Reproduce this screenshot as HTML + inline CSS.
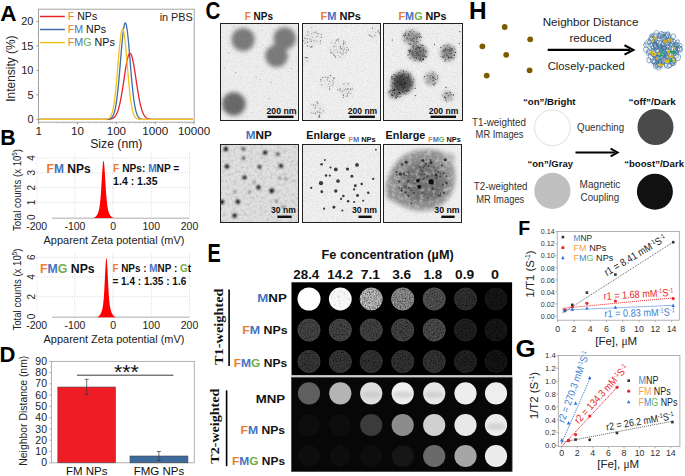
<!DOCTYPE html>
<html><head><meta charset="utf-8"><style>
html,body{margin:0;padding:0;background:#fff;}
svg{display:block;font-family:"Liberation Sans",sans-serif;}
</style></head><body>
<svg width="685" height="476" viewBox="0 0 685 476">
<defs>
<clipPath id="cpc1"><rect x="220" y="23" width="79.0" height="98.0"/></clipPath>
<clipPath id="cpc2"><rect x="302" y="23" width="79.0" height="98.0"/></clipPath>
<clipPath id="cpc3"><rect x="383" y="23" width="80.0" height="98.0"/></clipPath>
<clipPath id="cpc4"><rect x="220" y="144" width="79.0" height="79.0"/></clipPath>
<clipPath id="cpc5"><rect x="302" y="144" width="79.0" height="79.0"/></clipPath>
<clipPath id="cpc6"><rect x="383" y="144" width="79.0" height="79.0"/></clipPath>
<clipPath id="blobclip"><path d="M386,186 C388,176 392,168 397,162 C403,155 412,151 422,150 C432,149 443,150 449,157 C455,165 456,176 454,186 C451,197 444,205 433,209 C422,212 410,210 401,205 C395,202 389,200 386,196 Z"/></clipPath>
<filter id="blur15" x="-50%" y="-50%" width="200%" height="200%"><feGaussianBlur stdDeviation="1.5"/></filter>
<filter id="blur2" x="-50%" y="-50%" width="200%" height="200%"><feGaussianBlur stdDeviation="2"/></filter>
<filter id="blur3" x="-50%" y="-50%" width="200%" height="200%"><feGaussianBlur stdDeviation="3"/></filter>
<filter id="blur09" x="-50%" y="-50%" width="200%" height="200%"><feGaussianBlur stdDeviation="0.9"/></filter>
<filter id="blur4" x="-50%" y="-50%" width="200%" height="200%"><feGaussianBlur stdDeviation="4"/></filter>
<filter id="blur25" x="-50%" y="-50%" width="200%" height="200%"><feGaussianBlur stdDeviation="2.5"/></filter>
<filter id="blur04" x="-50%" y="-50%" width="200%" height="200%"><feGaussianBlur stdDeviation="0.4"/></filter>
<filter id="blur07" x="-50%" y="-50%" width="200%" height="200%"><feGaussianBlur stdDeviation="0.7"/></filter>
<filter id="blur05" x="-50%" y="-50%" width="200%" height="200%"><feGaussianBlur stdDeviation="0.5"/></filter>
<filter id="tnoise" x="0" y="0" width="100%" height="100%"><feTurbulence type="fractalNoise" baseFrequency="0.8" numOctaves="2" seed="3"/><feColorMatrix type="matrix" values="0 0 0 0 0  0 0 0 0 0  0 0 0 0 0  0.6 0 0 0 -0.27"/></filter>
<filter id="tnoise2" x="0" y="0" width="100%" height="100%"><feTurbulence type="fractalNoise" baseFrequency="0.3" numOctaves="3" seed="8"/><feColorMatrix type="matrix" values="0 0 0 0 0.6  0 0 0 0 0.6  0 0 0 0 0.6  3.2 0 0 0 -1.45"/></filter>
<filter id="mrimod" x="0" y="0" width="100%" height="100%"><feTurbulence type="fractalNoise" baseFrequency="0.75" numOctaves="2" seed="4" result="n"/><feColorMatrix in="n" type="matrix" values="1 0 0 0 0  1 0 0 0 0  1 0 0 0 0  0 0 0 0 1" result="g"/><feComposite in="SourceGraphic" in2="g" operator="arithmetic" k1="2.0" k2="-0.25" k3="0" k4="0"/></filter>
<filter id="blobtex" x="0" y="0" width="100%" height="100%"><feTurbulence type="fractalNoise" baseFrequency="0.25" numOctaves="2" seed="12"/><feColorMatrix type="matrix" values="0 0 0 0 1  0 0 0 0 1  0 0 0 0 1  2.2 0 0 0 -1.0"/></filter>
<filter id="mrinoise" x="0" y="0" width="100%" height="100%"><feTurbulence type="fractalNoise" baseFrequency="0.9" numOctaves="2" seed="5"/><feColorMatrix type="matrix" values="0 0 0 0 0.6  0 0 0 0 0.6  0 0 0 0 0.6  2.0 0 0 0 -0.95"/></filter>

</defs>
<rect width="685" height="476" fill="#fff"/>
<text x="0.3" y="21.2" font-size="22.5" font-weight="bold">A</text>
<rect x="38.5" y="9.2" width="155.7" height="113.0" fill="none" stroke="#9a9a9a" stroke-width="0.9"/>
<line x1="36.3" y1="119.4" x2="38.5" y2="119.4" stroke="#888" stroke-width="0.8"/>
<text x="33.5" y="123.3" font-size="11" text-anchor="end" fill="#222">0</text>
<line x1="36.3" y1="94.9" x2="38.5" y2="94.9" stroke="#888" stroke-width="0.8"/>
<text x="33.5" y="98.8" font-size="11" text-anchor="end" fill="#222">5</text>
<line x1="36.3" y1="70.4" x2="38.5" y2="70.4" stroke="#888" stroke-width="0.8"/>
<text x="33.5" y="74.3" font-size="11" text-anchor="end" fill="#222">10</text>
<line x1="36.3" y1="45.9" x2="38.5" y2="45.9" stroke="#888" stroke-width="0.8"/>
<text x="33.5" y="49.8" font-size="11" text-anchor="end" fill="#222">15</text>
<line x1="36.3" y1="21.4" x2="38.5" y2="21.4" stroke="#888" stroke-width="0.8"/>
<text x="33.5" y="25.3" font-size="11" text-anchor="end" fill="#222">20</text>
<line x1="37.3" y1="107.2" x2="38.5" y2="107.2" stroke="#aaa" stroke-width="0.7"/>
<line x1="37.3" y1="82.7" x2="38.5" y2="82.7" stroke="#aaa" stroke-width="0.7"/>
<line x1="37.3" y1="58.1" x2="38.5" y2="58.1" stroke="#aaa" stroke-width="0.7"/>
<line x1="37.3" y1="33.7" x2="38.5" y2="33.7" stroke="#aaa" stroke-width="0.7"/>
<line x1="38.7" y1="122.2" x2="38.7" y2="124.4" stroke="#888" stroke-width="0.8"/>
<line x1="50.4" y1="122.2" x2="50.4" y2="123.5" stroke="#aaa" stroke-width="0.6"/>
<line x1="57.2" y1="122.2" x2="57.2" y2="123.5" stroke="#aaa" stroke-width="0.6"/>
<line x1="62.1" y1="122.2" x2="62.1" y2="123.5" stroke="#aaa" stroke-width="0.6"/>
<line x1="65.8" y1="122.2" x2="65.8" y2="123.5" stroke="#aaa" stroke-width="0.6"/>
<line x1="68.9" y1="122.2" x2="68.9" y2="123.5" stroke="#aaa" stroke-width="0.6"/>
<line x1="71.5" y1="122.2" x2="71.5" y2="123.5" stroke="#aaa" stroke-width="0.6"/>
<line x1="73.8" y1="122.2" x2="73.8" y2="123.5" stroke="#aaa" stroke-width="0.6"/>
<line x1="75.8" y1="122.2" x2="75.8" y2="123.5" stroke="#aaa" stroke-width="0.6"/>
<line x1="77.5" y1="122.2" x2="77.5" y2="124.4" stroke="#888" stroke-width="0.8"/>
<line x1="89.2" y1="122.2" x2="89.2" y2="123.5" stroke="#aaa" stroke-width="0.6"/>
<line x1="96.1" y1="122.2" x2="96.1" y2="123.5" stroke="#aaa" stroke-width="0.6"/>
<line x1="100.9" y1="122.2" x2="100.9" y2="123.5" stroke="#aaa" stroke-width="0.6"/>
<line x1="104.7" y1="122.2" x2="104.7" y2="123.5" stroke="#aaa" stroke-width="0.6"/>
<line x1="107.7" y1="122.2" x2="107.7" y2="123.5" stroke="#aaa" stroke-width="0.6"/>
<line x1="110.3" y1="122.2" x2="110.3" y2="123.5" stroke="#aaa" stroke-width="0.6"/>
<line x1="112.6" y1="122.2" x2="112.6" y2="123.5" stroke="#aaa" stroke-width="0.6"/>
<line x1="114.6" y1="122.2" x2="114.6" y2="123.5" stroke="#aaa" stroke-width="0.6"/>
<line x1="116.4" y1="122.2" x2="116.4" y2="124.4" stroke="#888" stroke-width="0.8"/>
<line x1="128.0" y1="122.2" x2="128.0" y2="123.5" stroke="#aaa" stroke-width="0.6"/>
<line x1="134.9" y1="122.2" x2="134.9" y2="123.5" stroke="#aaa" stroke-width="0.6"/>
<line x1="139.7" y1="122.2" x2="139.7" y2="123.5" stroke="#aaa" stroke-width="0.6"/>
<line x1="143.5" y1="122.2" x2="143.5" y2="123.5" stroke="#aaa" stroke-width="0.6"/>
<line x1="146.6" y1="122.2" x2="146.6" y2="123.5" stroke="#aaa" stroke-width="0.6"/>
<line x1="149.2" y1="122.2" x2="149.2" y2="123.5" stroke="#aaa" stroke-width="0.6"/>
<line x1="151.4" y1="122.2" x2="151.4" y2="123.5" stroke="#aaa" stroke-width="0.6"/>
<line x1="153.4" y1="122.2" x2="153.4" y2="123.5" stroke="#aaa" stroke-width="0.6"/>
<line x1="155.2" y1="122.2" x2="155.2" y2="124.4" stroke="#888" stroke-width="0.8"/>
<line x1="166.9" y1="122.2" x2="166.9" y2="123.5" stroke="#aaa" stroke-width="0.6"/>
<line x1="173.7" y1="122.2" x2="173.7" y2="123.5" stroke="#aaa" stroke-width="0.6"/>
<line x1="178.6" y1="122.2" x2="178.6" y2="123.5" stroke="#aaa" stroke-width="0.6"/>
<line x1="182.3" y1="122.2" x2="182.3" y2="123.5" stroke="#aaa" stroke-width="0.6"/>
<line x1="185.4" y1="122.2" x2="185.4" y2="123.5" stroke="#aaa" stroke-width="0.6"/>
<line x1="188.0" y1="122.2" x2="188.0" y2="123.5" stroke="#aaa" stroke-width="0.6"/>
<line x1="190.3" y1="122.2" x2="190.3" y2="123.5" stroke="#aaa" stroke-width="0.6"/>
<line x1="192.2" y1="122.2" x2="192.2" y2="123.5" stroke="#aaa" stroke-width="0.6"/>
<line x1="194.0" y1="122.2" x2="194.0" y2="124.4" stroke="#888" stroke-width="0.8"/>
<text x="38.7" y="134.8" font-size="11.6" text-anchor="middle" fill="#222">1</text>
<text x="77.5" y="134.8" font-size="11.6" text-anchor="middle" fill="#222">10</text>
<text x="116.4" y="134.8" font-size="11.6" text-anchor="middle" fill="#222">100</text>
<text x="155.2" y="134.8" font-size="11.6" text-anchor="middle" fill="#222">1000</text>
<text x="194.0" y="134.8" font-size="11.6" text-anchor="middle" fill="#222">10000</text>
<text x="90.2" y="148.0" font-size="12.8" fill="#222" textLength="52.2" lengthAdjust="spacingAndGlyphs">Size (nm)</text>
<text transform="translate(15.0,68.6) rotate(-90)" text-anchor="middle" font-size="13" fill="#222" textLength="66.2" lengthAdjust="spacingAndGlyphs">Intensity (%)</text>
<line x1="40" y1="16.5" x2="64.8" y2="16.5" stroke="#E5242B" stroke-width="1.5"/>
<line x1="40" y1="29.5" x2="64.8" y2="29.5" stroke="#3D6DAA" stroke-width="1.5"/>
<line x1="40" y1="42.6" x2="64.8" y2="42.6" stroke="#F6C21B" stroke-width="1.5"/>
<text x="67.8" y="20.4" font-size="10.6" fill="#111" textLength="29.4" lengthAdjust="spacingAndGlyphs"><tspan fill="#ED7D31">F</tspan> NPs</text>
<text x="67.8" y="33.3" font-size="10.6" fill="#111" textLength="38.2" lengthAdjust="spacingAndGlyphs"><tspan fill="#ED7D31">F</tspan><tspan fill="#4472C4">M</tspan> NPs</text>
<text x="67.8" y="46.1" font-size="10.6" fill="#111" textLength="47.0" lengthAdjust="spacingAndGlyphs"><tspan fill="#ED7D31">F</tspan><tspan fill="#4472C4">M</tspan><tspan fill="#70AD47">G</tspan> NPs</text>
<text x="159.7" y="21.0" font-size="10.8" fill="#222" textLength="33.1" lengthAdjust="spacingAndGlyphs">in PBS</text>
<polyline points="39.5,119.40 40.0,119.40 40.5,119.40 41.0,119.40 41.5,119.40 42.0,119.40 42.5,119.40 43.0,119.40 43.5,119.40 44.0,119.40 44.5,119.40 45.0,119.40 45.5,119.40 46.0,119.40 46.5,119.40 47.0,119.40 47.5,119.40 48.0,119.40 48.5,119.40 49.0,119.40 49.5,119.40 50.0,119.40 50.5,119.40 51.0,119.40 51.5,119.40 52.0,119.40 52.5,119.40 53.0,119.40 53.5,119.40 54.0,119.40 54.5,119.40 55.0,119.40 55.5,119.40 56.0,119.40 56.5,119.40 57.0,119.40 57.5,119.40 58.0,119.40 58.5,119.40 59.0,119.40 59.5,119.40 60.0,119.40 60.5,119.40 61.0,119.40 61.5,119.40 62.0,119.40 62.5,119.40 63.0,119.40 63.5,119.40 64.0,119.40 64.5,119.40 65.0,119.40 65.5,119.40 66.0,119.40 66.5,119.40 67.0,119.40 67.5,119.40 68.0,119.40 68.5,119.40 69.0,119.40 69.5,119.40 70.0,119.40 70.5,119.40 71.0,119.40 71.5,119.40 72.0,119.40 72.5,119.40 73.0,119.40 73.5,119.40 74.0,119.40 74.5,119.40 75.0,119.40 75.5,119.40 76.0,119.40 76.5,119.40 77.0,119.40 77.5,119.40 78.0,119.40 78.5,119.40 79.0,119.40 79.5,119.40 80.0,119.40 80.5,119.40 81.0,119.40 81.5,119.40 82.0,119.40 82.5,119.40 83.0,119.40 83.5,119.40 84.0,119.40 84.5,119.40 85.0,119.40 85.5,119.40 86.0,119.40 86.5,119.40 87.0,119.40 87.5,119.40 88.0,119.40 88.5,119.40 89.0,119.40 89.5,119.40 90.0,119.40 90.5,119.40 91.0,119.40 91.5,119.40 92.0,119.40 92.5,119.40 93.0,119.40 93.5,119.40 94.0,119.40 94.5,119.40 95.0,119.40 95.5,119.40 96.0,119.40 96.5,119.40 97.0,119.40 97.5,119.40 98.0,119.40 98.5,119.40 99.0,119.40 99.5,119.40 100.0,119.40 100.5,119.40 101.0,119.40 101.5,119.40 102.0,119.40 102.5,119.40 103.0,119.40 103.5,119.40 104.0,119.39 104.5,119.39 105.0,119.39 105.5,119.38 106.0,119.38 106.5,119.37 107.0,119.36 107.5,119.34 108.0,119.32 108.5,119.29 109.0,119.26 109.5,119.21 110.0,119.14 110.5,119.06 111.0,118.96 111.5,118.83 112.0,118.67 112.5,118.46 113.0,118.21 113.5,117.89 114.0,117.51 114.5,117.05 115.0,116.49 115.5,115.83 116.0,115.05 116.5,114.14 117.0,113.07 117.5,111.85 118.0,110.45 118.5,108.86 119.0,107.08 119.5,105.09 120.0,102.91 120.5,100.51 121.0,97.92 121.5,95.15 122.0,92.20 122.5,89.11 123.0,85.91 123.5,82.61 124.0,79.28 124.5,75.94 125.0,72.66 125.5,69.47 126.0,66.43 126.5,63.60 127.0,61.02 127.5,58.75 128.0,56.82 128.5,55.29 129.0,54.16 129.5,53.48 130.0,53.25 130.5,53.48 131.0,54.16 131.5,55.29 132.0,56.82 132.5,58.75 133.0,61.02 133.5,63.60 134.0,66.43 134.5,69.47 135.0,72.66 135.5,75.94 136.0,79.28 136.5,82.61 137.0,85.91 137.5,89.11 138.0,92.20 138.5,95.15 139.0,97.92 139.5,100.51 140.0,102.91 140.5,105.09 141.0,107.08 141.5,108.86 142.0,110.45 142.5,111.85 143.0,113.07 143.5,114.14 144.0,115.05 144.5,115.83 145.0,116.49 145.5,117.05 146.0,117.51 146.5,117.89 147.0,118.21 147.5,118.46 148.0,118.67 148.5,118.83 149.0,118.96 149.5,119.06 150.0,119.14 150.5,119.21 151.0,119.26 151.5,119.29 152.0,119.32 152.5,119.34 153.0,119.36 153.5,119.37 154.0,119.38 154.5,119.38 155.0,119.39 155.5,119.39 156.0,119.39 156.5,119.40 157.0,119.40 157.5,119.40 158.0,119.40 158.5,119.40 159.0,119.40 159.5,119.40 160.0,119.40 160.5,119.40 161.0,119.40 161.5,119.40 162.0,119.40 162.5,119.40 163.0,119.40 163.5,119.40 164.0,119.40 164.5,119.40 165.0,119.40 165.5,119.40 166.0,119.40 166.5,119.40 167.0,119.40 167.5,119.40 168.0,119.40 168.5,119.40 169.0,119.40 169.5,119.40 170.0,119.40 170.5,119.40 171.0,119.40 171.5,119.40 172.0,119.40 172.5,119.40 173.0,119.40 173.5,119.40 174.0,119.40 174.5,119.40 175.0,119.40 175.5,119.40 176.0,119.40 176.5,119.40 177.0,119.40 177.5,119.40 178.0,119.40 178.5,119.40 179.0,119.40 179.5,119.40 180.0,119.40 180.5,119.40 181.0,119.40 181.5,119.40 182.0,119.40 182.5,119.40 183.0,119.40 183.5,119.40 184.0,119.40 184.5,119.40 185.0,119.40 185.5,119.40 186.0,119.40 186.5,119.40 187.0,119.40 187.5,119.40 188.0,119.40 188.5,119.40 189.0,119.40 189.5,119.40 190.0,119.40 190.5,119.40 191.0,119.40 191.5,119.40 192.0,119.40 192.5,119.40 193.0,119.40" fill="none" stroke="#E5242B" stroke-width="1.3" stroke-linejoin="round"/>
<polyline points="39.5,119.40 40.0,119.40 40.5,119.40 41.0,119.40 41.5,119.40 42.0,119.40 42.5,119.40 43.0,119.40 43.5,119.40 44.0,119.40 44.5,119.40 45.0,119.40 45.5,119.40 46.0,119.40 46.5,119.40 47.0,119.40 47.5,119.40 48.0,119.40 48.5,119.40 49.0,119.40 49.5,119.40 50.0,119.40 50.5,119.40 51.0,119.40 51.5,119.40 52.0,119.40 52.5,119.40 53.0,119.40 53.5,119.40 54.0,119.40 54.5,119.40 55.0,119.40 55.5,119.40 56.0,119.40 56.5,119.40 57.0,119.40 57.5,119.40 58.0,119.40 58.5,119.40 59.0,119.40 59.5,119.40 60.0,119.40 60.5,119.40 61.0,119.40 61.5,119.40 62.0,119.40 62.5,119.40 63.0,119.40 63.5,119.40 64.0,119.40 64.5,119.40 65.0,119.40 65.5,119.40 66.0,119.40 66.5,119.40 67.0,119.40 67.5,119.40 68.0,119.40 68.5,119.40 69.0,119.40 69.5,119.40 70.0,119.40 70.5,119.40 71.0,119.40 71.5,119.40 72.0,119.40 72.5,119.40 73.0,119.40 73.5,119.40 74.0,119.40 74.5,119.40 75.0,119.40 75.5,119.40 76.0,119.40 76.5,119.40 77.0,119.40 77.5,119.40 78.0,119.40 78.5,119.40 79.0,119.40 79.5,119.40 80.0,119.40 80.5,119.40 81.0,119.40 81.5,119.40 82.0,119.40 82.5,119.40 83.0,119.40 83.5,119.40 84.0,119.40 84.5,119.40 85.0,119.40 85.5,119.40 86.0,119.40 86.5,119.40 87.0,119.40 87.5,119.40 88.0,119.40 88.5,119.40 89.0,119.40 89.5,119.40 90.0,119.40 90.5,119.40 91.0,119.40 91.5,119.40 92.0,119.40 92.5,119.40 93.0,119.40 93.5,119.40 94.0,119.40 94.5,119.40 95.0,119.40 95.5,119.40 96.0,119.40 96.5,119.40 97.0,119.40 97.5,119.40 98.0,119.40 98.5,119.40 99.0,119.40 99.5,119.40 100.0,119.40 100.5,119.40 101.0,119.40 101.5,119.40 102.0,119.40 102.5,119.40 103.0,119.40 103.5,119.40 104.0,119.39 104.5,119.39 105.0,119.39 105.5,119.38 106.0,119.37 106.5,119.35 107.0,119.33 107.5,119.30 108.0,119.25 108.5,119.19 109.0,119.10 109.5,118.97 110.0,118.80 110.5,118.57 111.0,118.26 111.5,117.85 112.0,117.32 112.5,116.64 113.0,115.78 113.5,114.70 114.0,113.36 114.5,111.72 115.0,109.74 115.5,107.39 116.0,104.63 116.5,101.42 117.0,97.75 117.5,93.62 118.0,89.03 118.5,84.01 119.0,78.61 119.5,72.88 120.0,66.93 120.5,60.85 121.0,54.78 121.5,48.84 122.0,43.19 122.5,37.97 123.0,33.34 123.5,29.42 124.0,26.35 124.5,24.20 125.0,23.06 125.5,22.95 126.0,23.89 126.5,25.84 127.0,28.74 127.5,32.49 128.0,36.99 128.5,42.10 129.0,47.68 129.5,53.57 130.0,59.63 130.5,65.72 131.0,71.71 131.5,77.48 132.0,82.96 132.5,88.06 133.0,92.74 133.5,96.96 134.0,100.72 134.5,104.02 135.0,106.87 135.5,109.30 136.0,111.35 136.5,113.06 137.0,114.45 137.5,115.58 138.0,116.49 138.5,117.20 139.0,117.76 139.5,118.19 140.0,118.51 140.5,118.76 141.0,118.94 141.5,119.08 142.0,119.17 142.5,119.24 143.0,119.29 143.5,119.33 144.0,119.35 144.5,119.37 145.0,119.38 145.5,119.39 146.0,119.39 146.5,119.39 147.0,119.40 147.5,119.40 148.0,119.40 148.5,119.40 149.0,119.40 149.5,119.40 150.0,119.40 150.5,119.40 151.0,119.40 151.5,119.40 152.0,119.40 152.5,119.40 153.0,119.40 153.5,119.40 154.0,119.40 154.5,119.40 155.0,119.40 155.5,119.40 156.0,119.40 156.5,119.40 157.0,119.40 157.5,119.40 158.0,119.40 158.5,119.40 159.0,119.40 159.5,119.40 160.0,119.40 160.5,119.40 161.0,119.40 161.5,119.40 162.0,119.40 162.5,119.40 163.0,119.40 163.5,119.40 164.0,119.40 164.5,119.40 165.0,119.40 165.5,119.40 166.0,119.40 166.5,119.40 167.0,119.40 167.5,119.40 168.0,119.40 168.5,119.40 169.0,119.40 169.5,119.40 170.0,119.40 170.5,119.40 171.0,119.40 171.5,119.40 172.0,119.40 172.5,119.40 173.0,119.40 173.5,119.40 174.0,119.40 174.5,119.40 175.0,119.40 175.5,119.40 176.0,119.40 176.5,119.40 177.0,119.40 177.5,119.40 178.0,119.40 178.5,119.40 179.0,119.40 179.5,119.40 180.0,119.40 180.5,119.40 181.0,119.40 181.5,119.40 182.0,119.40 182.5,119.40 183.0,119.40 183.5,119.40 184.0,119.40 184.5,119.40 185.0,119.40 185.5,119.40 186.0,119.40 186.5,119.40 187.0,119.40 187.5,119.40 188.0,119.40 188.5,119.40 189.0,119.40 189.5,119.40 190.0,119.40 190.5,119.40 191.0,119.40 191.5,119.40 192.0,119.40 192.5,119.40 193.0,119.40" fill="none" stroke="#3D6DAA" stroke-width="1.3" stroke-linejoin="round"/>
<polyline points="39.5,119.40 40.0,119.40 40.5,119.40 41.0,119.40 41.5,119.40 42.0,119.40 42.5,119.40 43.0,119.40 43.5,119.40 44.0,119.40 44.5,119.40 45.0,119.40 45.5,119.40 46.0,119.40 46.5,119.40 47.0,119.40 47.5,119.40 48.0,119.40 48.5,119.40 49.0,119.40 49.5,119.40 50.0,119.40 50.5,119.40 51.0,119.40 51.5,119.40 52.0,119.40 52.5,119.40 53.0,119.40 53.5,119.40 54.0,119.40 54.5,119.40 55.0,119.40 55.5,119.40 56.0,119.40 56.5,119.40 57.0,119.40 57.5,119.40 58.0,119.40 58.5,119.40 59.0,119.40 59.5,119.40 60.0,119.40 60.5,119.40 61.0,119.40 61.5,119.40 62.0,119.40 62.5,119.40 63.0,119.40 63.5,119.40 64.0,119.40 64.5,119.40 65.0,119.40 65.5,119.40 66.0,119.40 66.5,119.40 67.0,119.40 67.5,119.40 68.0,119.40 68.5,119.40 69.0,119.40 69.5,119.40 70.0,119.40 70.5,119.40 71.0,119.40 71.5,119.40 72.0,119.40 72.5,119.40 73.0,119.40 73.5,119.40 74.0,119.40 74.5,119.40 75.0,119.40 75.5,119.40 76.0,119.40 76.5,119.40 77.0,119.40 77.5,119.40 78.0,119.40 78.5,119.40 79.0,119.40 79.5,119.40 80.0,119.40 80.5,119.40 81.0,119.40 81.5,119.40 82.0,119.40 82.5,119.40 83.0,119.40 83.5,119.40 84.0,119.40 84.5,119.40 85.0,119.40 85.5,119.40 86.0,119.40 86.5,119.40 87.0,119.40 87.5,119.40 88.0,119.40 88.5,119.40 89.0,119.40 89.5,119.40 90.0,119.40 90.5,119.40 91.0,119.40 91.5,119.40 92.0,119.40 92.5,119.40 93.0,119.40 93.5,119.40 94.0,119.40 94.5,119.40 95.0,119.40 95.5,119.40 96.0,119.40 96.5,119.40 97.0,119.40 97.5,119.40 98.0,119.40 98.5,119.40 99.0,119.40 99.5,119.40 100.0,119.40 100.5,119.40 101.0,119.40 101.5,119.40 102.0,119.40 102.5,119.39 103.0,119.39 103.5,119.38 104.0,119.37 104.5,119.36 105.0,119.34 105.5,119.31 106.0,119.27 106.5,119.20 107.0,119.11 107.5,118.99 108.0,118.81 108.5,118.57 109.0,118.25 109.5,117.83 110.0,117.27 110.5,116.55 111.0,115.63 111.5,114.47 112.0,113.03 112.5,111.26 113.0,109.13 113.5,106.59 114.0,103.61 114.5,100.17 115.0,96.25 115.5,91.85 116.0,87.01 116.5,81.77 117.0,76.19 117.5,70.37 118.0,64.42 118.5,58.47 119.0,52.66 119.5,47.16 120.0,42.13 120.5,37.72 121.0,34.07 121.5,31.31 122.0,29.52 122.5,28.77 123.0,29.09 123.5,30.47 124.0,32.85 124.5,36.16 125.0,40.29 125.5,45.09 126.0,50.42 126.5,56.12 127.0,62.03 127.5,68.00 128.0,73.89 128.5,79.58 129.0,84.96 129.5,89.97 130.0,94.55 130.5,98.66 131.0,102.29 131.5,105.45 132.0,108.16 132.5,110.46 133.0,112.36 133.5,113.93 134.0,115.20 134.5,116.21 135.0,117.00 135.5,117.62 136.0,118.10 136.5,118.46 137.0,118.72 137.5,118.92 138.0,119.07 138.5,119.17 139.0,119.24 139.5,119.29 140.0,119.33 140.5,119.35 141.0,119.37 141.5,119.38 142.0,119.39 142.5,119.39 143.0,119.40 143.5,119.40 144.0,119.40 144.5,119.40 145.0,119.40 145.5,119.40 146.0,119.40 146.5,119.40 147.0,119.40 147.5,119.40 148.0,119.40 148.5,119.40 149.0,119.40 149.5,119.40 150.0,119.40 150.5,119.40 151.0,119.40 151.5,119.40 152.0,119.40 152.5,119.40 153.0,119.40 153.5,119.40 154.0,119.40 154.5,119.40 155.0,119.40 155.5,119.40 156.0,119.40 156.5,119.40 157.0,119.40 157.5,119.40 158.0,119.40 158.5,119.40 159.0,119.40 159.5,119.40 160.0,119.40 160.5,119.40 161.0,119.40 161.5,119.40 162.0,119.40 162.5,119.40 163.0,119.40 163.5,119.40 164.0,119.40 164.5,119.40 165.0,119.40 165.5,119.40 166.0,119.40 166.5,119.40 167.0,119.40 167.5,119.40 168.0,119.40 168.5,119.40 169.0,119.40 169.5,119.40 170.0,119.40 170.5,119.40 171.0,119.40 171.5,119.40 172.0,119.40 172.5,119.40 173.0,119.40 173.5,119.40 174.0,119.40 174.5,119.40 175.0,119.40 175.5,119.40 176.0,119.40 176.5,119.40 177.0,119.40 177.5,119.40 178.0,119.40 178.5,119.40 179.0,119.40 179.5,119.40 180.0,119.40 180.5,119.40 181.0,119.40 181.5,119.40 182.0,119.40 182.5,119.40 183.0,119.40 183.5,119.40 184.0,119.40 184.5,119.40 185.0,119.40 185.5,119.40 186.0,119.40 186.5,119.40 187.0,119.40 187.5,119.40 188.0,119.40 188.5,119.40 189.0,119.40 189.5,119.40 190.0,119.40 190.5,119.40 191.0,119.40 191.5,119.40 192.0,119.40 192.5,119.40 193.0,119.40" fill="none" stroke="#F6C21B" stroke-width="1.3" stroke-linejoin="round"/>
<text x="0.2" y="144.8" font-size="21.3" font-weight="bold">B</text>
<line x1="37" y1="202.4" x2="190" y2="202.4" stroke="#c8c8c8" stroke-width="0.7" stroke-dasharray="1,1.5"/>
<line x1="37" y1="187.6" x2="190" y2="187.6" stroke="#c8c8c8" stroke-width="0.7" stroke-dasharray="1,1.5"/>
<line x1="37" y1="172.8" x2="190" y2="172.8" stroke="#c8c8c8" stroke-width="0.7" stroke-dasharray="1,1.5"/>
<line x1="37" y1="158.0" x2="190" y2="158.0" stroke="#c8c8c8" stroke-width="0.7" stroke-dasharray="1,1.5"/>
<line x1="74.9" y1="153.0" x2="74.9" y2="217.7" stroke="#c8c8c8" stroke-width="0.7" stroke-dasharray="1,1.5"/>
<line x1="113.1" y1="153.0" x2="113.1" y2="217.7" stroke="#c8c8c8" stroke-width="0.7" stroke-dasharray="1,1.5"/>
<line x1="151.3" y1="153.0" x2="151.3" y2="217.7" stroke="#c8c8c8" stroke-width="0.7" stroke-dasharray="1,1.5"/>
<line x1="189.5" y1="153.0" x2="189.5" y2="217.7" stroke="#c8c8c8" stroke-width="0.7" stroke-dasharray="1,1.5"/>
<line x1="36.8" y1="153.0" x2="36.8" y2="218.2" stroke="#d8d8d8" stroke-width="0.7" stroke-dasharray="1,1.5"/>
<line x1="52" y1="218.3" x2="189.5" y2="218.3" stroke="#c8c8c8" stroke-width="1.4"/>
<text transform="translate(35.2,217.2) rotate(-90)" text-anchor="middle" font-size="10" fill="#222">0</text>
<text transform="translate(35.2,202.4) rotate(-90)" text-anchor="middle" font-size="10" fill="#222">1</text>
<text transform="translate(35.2,187.6) rotate(-90)" text-anchor="middle" font-size="10" fill="#222">2</text>
<text transform="translate(35.2,172.8) rotate(-90)" text-anchor="middle" font-size="10" fill="#222">3</text>
<text transform="translate(35.2,158.0) rotate(-90)" text-anchor="middle" font-size="10" fill="#222">4</text>
<text x="36.7" y="229.6" font-size="10.5" text-anchor="middle" fill="#222">-200</text>
<text x="74.9" y="229.6" font-size="10.5" text-anchor="middle" fill="#222">-100</text>
<text x="113.1" y="229.6" font-size="10.5" text-anchor="middle" fill="#222">0</text>
<text x="151.3" y="229.6" font-size="10.5" text-anchor="middle" fill="#222">100</text>
<text x="189.5" y="229.6" font-size="10.5" text-anchor="middle" fill="#222">200</text>
<text x="114.0" y="243.6" font-size="11" text-anchor="middle" fill="#222" textLength="141.0" lengthAdjust="spacingAndGlyphs">Apparent Zeta potential (mV)</text>
<text transform="translate(21.3,190) rotate(-90)" text-anchor="middle" font-size="11" fill="#222" textLength="82" lengthAdjust="spacingAndGlyphs">Total counts (x 10<tspan dy="-4" font-size="7">5</tspan><tspan dy="4">)</tspan></text>
<polygon points="92.70,218.02 92.95,217.98 93.20,217.93 93.45,217.87 93.70,217.80 93.95,217.72 94.20,217.63 94.45,217.52 94.70,217.39 94.95,217.24 95.20,217.07 95.45,216.88 95.70,216.66 95.95,216.42 96.20,216.14 96.45,215.83 96.70,215.49 96.95,215.10 97.20,214.68 97.45,214.21 97.70,213.69 97.95,213.10 98.20,212.44 98.45,211.69 98.70,210.83 98.95,209.82 99.20,208.64 99.45,207.24 99.70,205.59 99.95,203.65 100.20,201.36 100.45,198.71 100.70,195.68 100.95,192.28 101.20,188.55 101.45,184.56 101.70,180.42 101.95,176.28 102.20,172.29 102.45,168.65 102.70,165.52 102.95,163.09 103.20,161.49 103.45,160.82 103.70,161.11 103.95,162.35 104.20,164.46 104.45,167.32 104.70,170.78 104.95,174.65 105.20,178.76 105.45,182.92 105.70,186.98 105.95,190.82 106.20,194.36 106.45,197.54 106.70,200.35 106.95,202.77 107.20,204.85 107.45,206.62 107.70,208.11 107.95,209.37 108.20,210.44 108.45,211.36 108.70,212.15 108.95,212.85 109.20,213.46 109.45,214.01 109.70,214.50 109.95,214.94 110.20,215.34 110.45,215.70 110.70,216.02 110.95,216.31 111.20,216.57 111.45,216.80 111.70,217.00 111.95,217.18 112.20,217.33 112.45,217.47 112.70,217.59 112.95,217.69 113.20,217.77 113.45,217.85 113.70,217.91 113.95,217.96 114.20,218.01" fill="#f00"/>
<text x="46.6" y="172.9" font-size="12" font-weight="bold" fill="#111" textLength="44.1" lengthAdjust="spacingAndGlyphs"><tspan fill="#ED7D31">F</tspan><tspan fill="#4472C4">M</tspan> NPs</text>
<text x="113.1" y="171.5" font-size="10.2" font-weight="bold" fill="#111" textLength="66.2" lengthAdjust="spacingAndGlyphs"><tspan fill="#ED7D31">F</tspan> NPs: <tspan fill="#4472C4">M</tspan>NP =</text>
<text x="113.1" y="185.3" font-size="10.5" font-weight="bold" fill="#111" textLength="44.5" lengthAdjust="spacingAndGlyphs">1.4 : 1.35</text>
<line x1="37" y1="296.7" x2="190" y2="296.7" stroke="#c8c8c8" stroke-width="0.7" stroke-dasharray="1,1.5"/>
<line x1="37" y1="277.0" x2="190" y2="277.0" stroke="#c8c8c8" stroke-width="0.7" stroke-dasharray="1,1.5"/>
<line x1="37" y1="257.3" x2="190" y2="257.3" stroke="#c8c8c8" stroke-width="0.7" stroke-dasharray="1,1.5"/>
<line x1="74.9" y1="253.0" x2="74.9" y2="316.7" stroke="#c8c8c8" stroke-width="0.7" stroke-dasharray="1,1.5"/>
<line x1="113.1" y1="253.0" x2="113.1" y2="316.7" stroke="#c8c8c8" stroke-width="0.7" stroke-dasharray="1,1.5"/>
<line x1="151.3" y1="253.0" x2="151.3" y2="316.7" stroke="#c8c8c8" stroke-width="0.7" stroke-dasharray="1,1.5"/>
<line x1="189.5" y1="253.0" x2="189.5" y2="316.7" stroke="#c8c8c8" stroke-width="0.7" stroke-dasharray="1,1.5"/>
<line x1="36.8" y1="253.0" x2="36.8" y2="317.2" stroke="#d8d8d8" stroke-width="0.7" stroke-dasharray="1,1.5"/>
<line x1="52" y1="317.3" x2="189.5" y2="317.3" stroke="#c8c8c8" stroke-width="1.4"/>
<text transform="translate(35.2,316.4) rotate(-90)" text-anchor="middle" font-size="10" fill="#222">0</text>
<text transform="translate(35.2,296.7) rotate(-90)" text-anchor="middle" font-size="10" fill="#222">2</text>
<text transform="translate(35.2,277.0) rotate(-90)" text-anchor="middle" font-size="10" fill="#222">4</text>
<text transform="translate(35.2,257.3) rotate(-90)" text-anchor="middle" font-size="10" fill="#222">6</text>
<text x="36.7" y="329.2" font-size="10.5" text-anchor="middle" fill="#222">-200</text>
<text x="74.9" y="329.2" font-size="10.5" text-anchor="middle" fill="#222">-100</text>
<text x="113.1" y="329.2" font-size="10.5" text-anchor="middle" fill="#222">0</text>
<text x="151.3" y="329.2" font-size="10.5" text-anchor="middle" fill="#222">100</text>
<text x="189.5" y="329.2" font-size="10.5" text-anchor="middle" fill="#222">200</text>
<text x="114.0" y="342.8" font-size="11" text-anchor="middle" fill="#222" textLength="141.0" lengthAdjust="spacingAndGlyphs">Apparent Zeta potential (mV)</text>
<text transform="translate(21.3,289.6) rotate(-90)" text-anchor="middle" font-size="11" fill="#222" textLength="82" lengthAdjust="spacingAndGlyphs">Total counts (x 10<tspan dy="-4" font-size="7">5</tspan><tspan dy="4">)</tspan></text>
<polygon points="96.50,317.21 96.75,317.17 97.00,317.11 97.25,317.04 97.50,316.96 97.75,316.86 98.00,316.75 98.25,316.61 98.50,316.45 98.75,316.26 99.00,316.05 99.25,315.80 99.50,315.52 99.75,315.21 100.00,314.85 100.25,314.46 100.50,314.02 100.75,313.53 101.00,313.00 101.25,312.41 101.50,311.76 101.75,311.04 102.00,310.23 102.25,309.30 102.50,308.21 102.75,306.91 103.00,305.34 103.25,303.40 103.50,301.04 103.75,298.16 104.00,294.72 104.25,290.71 104.50,286.18 104.75,281.25 105.00,276.12 105.25,271.07 105.50,266.42 105.75,262.51 106.00,259.64 106.25,258.06 106.50,257.92 106.75,259.21 107.00,261.84 107.25,265.57 107.50,270.10 107.75,275.09 108.00,280.23 108.25,285.22 108.50,289.84 108.75,293.96 109.00,297.52 109.25,300.50 109.50,302.97 109.75,304.98 110.00,306.62 110.25,307.97 110.50,309.10 110.75,310.06 111.00,310.89 111.25,311.63 111.50,312.29 111.75,312.89 112.00,313.43 112.25,313.93 112.50,314.37 112.75,314.78 113.00,315.14 113.25,315.46 113.50,315.75 113.75,316.00 114.00,316.22 114.25,316.41 114.50,316.58 114.75,316.72 115.00,316.84 115.25,316.94 115.50,317.03 115.75,317.10 116.00,317.16 116.25,317.21" fill="#f00"/>
<text x="40.1" y="273.3" font-size="12" font-weight="bold" fill="#111" textLength="54.6" lengthAdjust="spacingAndGlyphs"><tspan fill="#ED7D31">F</tspan><tspan fill="#4472C4">M</tspan><tspan fill="#70AD47">G</tspan> NPs</text>
<text x="112.4" y="272.4" font-size="10" font-weight="bold" fill="#111" textLength="78.6" lengthAdjust="spacingAndGlyphs"><tspan fill="#ED7D31">F</tspan> NPs : <tspan fill="#4472C4">M</tspan>NP : <tspan fill="#70AD47">G</tspan>t</text>
<text x="112.4" y="285.2" font-size="10" font-weight="bold" fill="#111" textLength="73.9" lengthAdjust="spacingAndGlyphs">= 1.4 : 1.35 : 1.6</text>
<text x="-0.5" y="362.3" font-size="22" font-weight="bold">D</text>
<rect x="51.4" y="361.4" width="142.9" height="101.40000000000003" fill="none" stroke="#a8a8a8" stroke-width="0.9"/>
<line x1="49.4" y1="462.8" x2="51.4" y2="462.8" stroke="#888" stroke-width="0.7"/>
<text x="47.0" y="466.4" font-size="10.5" text-anchor="end" fill="#222">0</text>
<line x1="49.4" y1="451.5" x2="51.4" y2="451.5" stroke="#888" stroke-width="0.7"/>
<text x="47.0" y="455.1" font-size="10.5" text-anchor="end" fill="#222">10</text>
<line x1="49.4" y1="440.2" x2="51.4" y2="440.2" stroke="#888" stroke-width="0.7"/>
<text x="47.0" y="443.8" font-size="10.5" text-anchor="end" fill="#222">20</text>
<line x1="49.4" y1="429.0" x2="51.4" y2="429.0" stroke="#888" stroke-width="0.7"/>
<text x="47.0" y="432.6" font-size="10.5" text-anchor="end" fill="#222">30</text>
<line x1="49.4" y1="417.7" x2="51.4" y2="417.7" stroke="#888" stroke-width="0.7"/>
<text x="47.0" y="421.3" font-size="10.5" text-anchor="end" fill="#222">40</text>
<line x1="49.4" y1="406.4" x2="51.4" y2="406.4" stroke="#888" stroke-width="0.7"/>
<text x="47.0" y="410.0" font-size="10.5" text-anchor="end" fill="#222">50</text>
<line x1="49.4" y1="395.1" x2="51.4" y2="395.1" stroke="#888" stroke-width="0.7"/>
<text x="47.0" y="398.7" font-size="10.5" text-anchor="end" fill="#222">60</text>
<line x1="49.4" y1="383.8" x2="51.4" y2="383.8" stroke="#888" stroke-width="0.7"/>
<text x="47.0" y="387.4" font-size="10.5" text-anchor="end" fill="#222">70</text>
<line x1="49.4" y1="372.6" x2="51.4" y2="372.6" stroke="#888" stroke-width="0.7"/>
<text x="47.0" y="376.2" font-size="10.5" text-anchor="end" fill="#222">80</text>
<line x1="49.4" y1="361.3" x2="51.4" y2="361.3" stroke="#888" stroke-width="0.7"/>
<text x="47.0" y="364.9" font-size="10.5" text-anchor="end" fill="#222">90</text>
<line x1="50.199999999999996" y1="457.2" x2="51.4" y2="457.2" stroke="#aaa" stroke-width="0.6"/>
<line x1="50.199999999999996" y1="445.9" x2="51.4" y2="445.9" stroke="#aaa" stroke-width="0.6"/>
<line x1="50.199999999999996" y1="434.6" x2="51.4" y2="434.6" stroke="#aaa" stroke-width="0.6"/>
<line x1="50.199999999999996" y1="423.3" x2="51.4" y2="423.3" stroke="#aaa" stroke-width="0.6"/>
<line x1="50.199999999999996" y1="412.0" x2="51.4" y2="412.0" stroke="#aaa" stroke-width="0.6"/>
<line x1="50.199999999999996" y1="400.8" x2="51.4" y2="400.8" stroke="#aaa" stroke-width="0.6"/>
<line x1="50.199999999999996" y1="389.5" x2="51.4" y2="389.5" stroke="#aaa" stroke-width="0.6"/>
<line x1="50.199999999999996" y1="378.2" x2="51.4" y2="378.2" stroke="#aaa" stroke-width="0.6"/>
<line x1="50.199999999999996" y1="366.9" x2="51.4" y2="366.9" stroke="#aaa" stroke-width="0.6"/>
<rect x="57.8" y="387.0" width="57.8" height="75.8" fill="#ee1c24" stroke="#555" stroke-width="0.6"/>
<rect x="130" y="456.0" width="57.9" height="6.8" fill="#3F6A9C" stroke="#444" stroke-width="0.6"/>
<path d="M86.7,379.3 V394.6 M84.7,379.3 H88.7 M84.7,394.6 H88.7" stroke="#333" stroke-width="0.7" fill="none"/>
<path d="M158.9,451.5 V460.5 M156.9,451.5 H160.9 M156.9,460.5 H160.9" stroke="#333" stroke-width="0.7" fill="none"/>
<line x1="77" y1="375.2" x2="173.4" y2="375.2" stroke="#222" stroke-width="0.9"/>
<text x="114.0" y="378.8" font-size="20" fill="#111" textLength="24.8" lengthAdjust="spacingAndGlyphs">***</text>
<text x="86.7" y="475.3" font-size="11.5" text-anchor="middle" fill="#111">FM NPs</text>
<text x="158.9" y="475.3" font-size="11.5" text-anchor="middle" fill="#111">FMG NPs</text>
<text transform="translate(27.3,410.7) rotate(-90)" text-anchor="middle" font-size="11.2" fill="#222" textLength="110" lengthAdjust="spacingAndGlyphs">Neighbor Distance (nm)</text>
<text x="205.6" y="19.1" font-size="24.5" font-weight="bold" textLength="14.9" lengthAdjust="spacingAndGlyphs">C</text>
<text x="244.7" y="19.5" font-size="11" font-weight="bold" fill="#111" textLength="28.3" lengthAdjust="spacingAndGlyphs"><tspan fill="#ED7D31">F</tspan> NPs</text>
<text x="320.6" y="19.5" font-size="11" font-weight="bold" fill="#111" textLength="40.4" lengthAdjust="spacingAndGlyphs"><tspan fill="#ED7D31">F</tspan><tspan fill="#4472C4">M</tspan> NPs</text>
<text x="398.5" y="19.5" font-size="11" font-weight="bold" fill="#111" textLength="48.1" lengthAdjust="spacingAndGlyphs"><tspan fill="#ED7D31">F</tspan><tspan fill="#4472C4">M</tspan><tspan fill="#70AD47">G</tspan> NPs</text>
<text x="245.7" y="139.2" font-size="11.5" font-weight="bold" fill="#111" textLength="26.0" lengthAdjust="spacingAndGlyphs"><tspan fill="#4472C4">M</tspan>NP</text>
<text x="306.3" y="139.4" font-size="11.2" font-weight="bold" fill="#111" textLength="39.2" lengthAdjust="spacingAndGlyphs">Enlarge</text>
<text x="348.4" y="141.9" font-size="7" font-weight="bold" fill="#111" textLength="27.3" lengthAdjust="spacingAndGlyphs"><tspan fill="#ED7D31">F</tspan><tspan fill="#4472C4">M</tspan> NPs</text>
<text x="385.6" y="139.4" font-size="11.2" font-weight="bold" fill="#111" textLength="39.7" lengthAdjust="spacingAndGlyphs">Enlarge</text>
<text x="428.3" y="141.9" font-size="7" font-weight="bold" fill="#111" textLength="32.5" lengthAdjust="spacingAndGlyphs"><tspan fill="#ED7D31">F</tspan><tspan fill="#4472C4">M</tspan><tspan fill="#70AD47">G</tspan> NPs</text>
<g clip-path="url(#cpc1)"><rect x="220" y="23" width="79.0" height="98.0" fill="#efefef"/><g filter="url(#blur2)" fill="#7c7c7c"><circle cx="243.1" cy="39.5" r="11.6"/><circle cx="284.7" cy="38.4" r="11.2"/><circle cx="276.5" cy="56" r="11.3"/><circle cx="233.8" cy="104" r="11.8" fill="#6a6a6a"/></g><circle cx="255.9" cy="77.1" r="0.6" fill="#aaa"/><circle cx="291.3" cy="68.3" r="0.6" fill="#aaa"/><circle cx="260.1" cy="79.6" r="0.6" fill="#aaa"/><circle cx="235.8" cy="72.6" r="0.6" fill="#aaa"/><circle cx="269.2" cy="98.7" r="0.6" fill="#aaa"/><circle cx="229.1" cy="53.2" r="0.6" fill="#aaa"/><circle cx="228.8" cy="100.3" r="0.6" fill="#aaa"/><circle cx="274.0" cy="28.9" r="0.6" fill="#aaa"/><circle cx="295.7" cy="114.7" r="0.6" fill="#aaa"/><circle cx="271.0" cy="82.2" r="0.6" fill="#aaa"/><circle cx="233.8" cy="26.4" r="0.6" fill="#aaa"/><circle cx="261.6" cy="30.5" r="0.6" fill="#aaa"/><circle cx="236.3" cy="47.5" r="0.6" fill="#aaa"/><circle cx="224.3" cy="68.1" r="0.6" fill="#aaa"/><rect x="220" y="23" width="79.0" height="98.0" fill="#000" filter="url(#tnoise)" opacity="0.35"/></g>
<rect x="220.5" y="23.5" width="78.0" height="97.0" fill="none" stroke="#222" stroke-width="1"/>
<g clip-path="url(#cpc2)"><rect x="302" y="23" width="79.0" height="98.0" fill="#f1f1f1"/><circle cx="303.8" cy="40.8" r="0.56" fill="#555"/><circle cx="307.8" cy="31.9" r="0.60" fill="#555"/><circle cx="307.2" cy="38.8" r="0.70" fill="#555"/><circle cx="321.5" cy="37.2" r="0.61" fill="#555"/><circle cx="310.4" cy="41.8" r="0.49" fill="#555"/><circle cx="320.2" cy="41.1" r="0.52" fill="#555"/><circle cx="315.8" cy="32.3" r="0.69" fill="#555"/><circle cx="312.4" cy="37.2" r="0.46" fill="#555"/><circle cx="318.1" cy="33.7" r="0.69" fill="#555"/><circle cx="310.1" cy="39.0" r="0.59" fill="#555"/><circle cx="313.2" cy="32.3" r="0.43" fill="#555"/><circle cx="307.4" cy="45.9" r="0.63" fill="#555"/><circle cx="316.0" cy="40.8" r="0.43" fill="#555"/><circle cx="320.6" cy="40.7" r="0.45" fill="#555"/><circle cx="306.1" cy="35.0" r="0.46" fill="#555"/><circle cx="311.9" cy="33.8" r="0.59" fill="#555"/><circle cx="317.1" cy="41.7" r="0.46" fill="#555"/><circle cx="311.1" cy="47.2" r="0.64" fill="#555"/><circle cx="309.2" cy="46.3" r="0.46" fill="#555"/><circle cx="305.0" cy="43.1" r="0.59" fill="#555"/><circle cx="320.3" cy="43.3" r="0.46" fill="#555"/><circle cx="311.8" cy="46.2" r="0.50" fill="#555"/><circle cx="311.5" cy="40.0" r="0.43" fill="#555"/><circle cx="308.0" cy="35.0" r="0.58" fill="#555"/><circle cx="307.6" cy="42.3" r="0.69" fill="#555"/><circle cx="304.8" cy="38.2" r="0.66" fill="#555"/><circle cx="313.9" cy="41.0" r="0.67" fill="#555"/><circle cx="314.4" cy="32.9" r="0.46" fill="#555"/><circle cx="311.7" cy="27.7" r="0.46" fill="#555"/><circle cx="321.2" cy="34.5" r="0.58" fill="#555"/><circle cx="309.5" cy="38.9" r="0.41" fill="#555"/><circle cx="317.0" cy="36.3" r="0.61" fill="#555"/><circle cx="311.9" cy="46.5" r="0.58" fill="#555"/><circle cx="311.2" cy="41.4" r="0.62" fill="#555"/><circle cx="312.3" cy="37.4" r="10" fill="#ddd" opacity="0.35" filter="url(#blur2)"/><circle cx="343.3" cy="50.7" r="0.57" fill="#555"/><circle cx="343.7" cy="42.4" r="0.48" fill="#555"/><circle cx="342.9" cy="46.5" r="0.40" fill="#555"/><circle cx="338.2" cy="55.3" r="0.42" fill="#555"/><circle cx="341.7" cy="54.1" r="0.57" fill="#555"/><circle cx="343.1" cy="53.1" r="0.67" fill="#555"/><circle cx="347.0" cy="47.7" r="0.61" fill="#555"/><circle cx="335.8" cy="46.8" r="0.41" fill="#555"/><circle cx="348.5" cy="49.8" r="0.61" fill="#555"/><circle cx="340.4" cy="48.4" r="0.59" fill="#555"/><circle cx="330.5" cy="49.7" r="0.50" fill="#555"/><circle cx="341.7" cy="48.7" r="0.56" fill="#555"/><circle cx="338.2" cy="39.2" r="0.62" fill="#555"/><circle cx="336.4" cy="40.2" r="0.67" fill="#555"/><circle cx="334.1" cy="55.3" r="0.67" fill="#555"/><circle cx="343.5" cy="44.0" r="0.64" fill="#555"/><circle cx="343.9" cy="43.0" r="0.59" fill="#555"/><circle cx="333.4" cy="53.8" r="0.58" fill="#555"/><circle cx="346.0" cy="52.6" r="0.70" fill="#555"/><circle cx="345.2" cy="42.8" r="0.52" fill="#555"/><circle cx="338.3" cy="41.1" r="0.53" fill="#555"/><circle cx="340.5" cy="46.2" r="0.63" fill="#555"/><circle cx="346.6" cy="50.1" r="0.54" fill="#555"/><circle cx="340.0" cy="57.0" r="0.55" fill="#555"/><circle cx="331.8" cy="42.4" r="0.48" fill="#555"/><circle cx="344.5" cy="49.1" r="0.60" fill="#555"/><circle cx="340.2" cy="52.6" r="0.67" fill="#555"/><circle cx="335.4" cy="43.1" r="0.67" fill="#555"/><circle cx="335.2" cy="55.9" r="0.46" fill="#555"/><circle cx="330.9" cy="52.5" r="0.67" fill="#555"/><circle cx="343.5" cy="44.5" r="0.57" fill="#555"/><circle cx="337.5" cy="52.1" r="0.55" fill="#555"/><circle cx="343.8" cy="40.8" r="0.61" fill="#555"/><circle cx="344.0" cy="47.1" r="0.45" fill="#555"/><circle cx="334.0" cy="50.3" r="0.46" fill="#555"/><circle cx="332.2" cy="52.8" r="0.55" fill="#555"/><circle cx="335.3" cy="57.1" r="0.69" fill="#555"/><circle cx="336.4" cy="49.5" r="0.41" fill="#555"/><circle cx="340.4" cy="47.2" r="0.61" fill="#555"/><circle cx="334.0" cy="46.3" r="0.64" fill="#555"/><circle cx="342.7" cy="49.1" r="0.54" fill="#555"/><circle cx="348.0" cy="50.1" r="0.47" fill="#555"/><circle cx="339" cy="48.7" r="10" fill="#ddd" opacity="0.35" filter="url(#blur2)"/><circle cx="328.8" cy="84.0" r="0.59" fill="#555"/><circle cx="321.7" cy="84.8" r="0.60" fill="#555"/><circle cx="330.5" cy="75.4" r="0.61" fill="#555"/><circle cx="329.4" cy="87.9" r="0.45" fill="#555"/><circle cx="333.2" cy="83.1" r="0.61" fill="#555"/><circle cx="329.5" cy="86.5" r="0.50" fill="#555"/><circle cx="325.8" cy="77.2" r="0.58" fill="#555"/><circle cx="327.9" cy="77.7" r="0.64" fill="#555"/><circle cx="329.7" cy="81.4" r="0.68" fill="#555"/><circle cx="327.2" cy="79.9" r="0.54" fill="#555"/><circle cx="322.3" cy="77.3" r="0.51" fill="#555"/><circle cx="320.9" cy="79.6" r="0.64" fill="#555"/><circle cx="332.8" cy="80.8" r="0.60" fill="#555"/><circle cx="329.6" cy="89.2" r="0.65" fill="#555"/><circle cx="323.4" cy="77.4" r="0.46" fill="#555"/><circle cx="334.1" cy="78.0" r="0.69" fill="#555"/><circle cx="320.8" cy="81.1" r="0.50" fill="#555"/><circle cx="333.9" cy="78.7" r="0.50" fill="#555"/><circle cx="332.3" cy="85.3" r="0.57" fill="#555"/><circle cx="328.3" cy="77.2" r="0.41" fill="#555"/><circle cx="327.7" cy="82.7" r="8" fill="#ddd" opacity="0.35" filter="url(#blur2)"/><circle cx="345.9" cy="89.0" r="0.64" fill="#555"/><circle cx="347.4" cy="95.0" r="0.64" fill="#555"/><circle cx="347.2" cy="93.3" r="0.55" fill="#555"/><circle cx="344.0" cy="83.7" r="0.61" fill="#555"/><circle cx="350.5" cy="89.0" r="0.68" fill="#555"/><circle cx="348.4" cy="92.8" r="0.56" fill="#555"/><circle cx="343.5" cy="97.5" r="0.59" fill="#555"/><circle cx="337.9" cy="89.9" r="0.57" fill="#555"/><circle cx="343.3" cy="95.5" r="0.65" fill="#555"/><circle cx="348.2" cy="88.8" r="0.66" fill="#555"/><circle cx="350.9" cy="89.8" r="0.57" fill="#555"/><circle cx="347.0" cy="96.5" r="0.55" fill="#555"/><circle cx="344.1" cy="90.1" r="0.69" fill="#555"/><circle cx="340.2" cy="90.4" r="0.64" fill="#555"/><circle cx="340.0" cy="88.7" r="0.61" fill="#555"/><circle cx="350.6" cy="93.3" r="0.52" fill="#555"/><circle cx="352.6" cy="88.8" r="0.48" fill="#555"/><circle cx="342.4" cy="91.4" r="0.53" fill="#555"/><circle cx="348.2" cy="83.9" r="0.54" fill="#555"/><circle cx="343.8" cy="94.1" r="0.59" fill="#555"/><circle cx="347.8" cy="89.6" r="0.63" fill="#555"/><circle cx="348.7" cy="91.4" r="0.47" fill="#555"/><circle cx="345.2" cy="90.9" r="8" fill="#ddd" opacity="0.35" filter="url(#blur2)"/><circle cx="315.6" cy="105.2" r="0.51" fill="#555"/><circle cx="315.5" cy="107.6" r="0.62" fill="#555"/><circle cx="321.5" cy="113.4" r="0.48" fill="#555"/><circle cx="319.3" cy="114.9" r="0.53" fill="#555"/><circle cx="313.7" cy="113.0" r="0.56" fill="#555"/><circle cx="319.3" cy="112.4" r="0.59" fill="#555"/><circle cx="313.6" cy="105.0" r="0.66" fill="#555"/><circle cx="311.7" cy="104.6" r="0.47" fill="#555"/><circle cx="317.0" cy="102.2" r="0.67" fill="#555"/><circle cx="315.6" cy="113.5" r="0.68" fill="#555"/><circle cx="319.0" cy="117.2" r="0.67" fill="#555"/><circle cx="320.0" cy="112.3" r="0.62" fill="#555"/><circle cx="317.3" cy="111.9" r="0.65" fill="#555"/><circle cx="311.1" cy="112.8" r="0.44" fill="#555"/><circle cx="312.0" cy="113.2" r="0.41" fill="#555"/><circle cx="319.4" cy="115.7" r="0.67" fill="#555"/><circle cx="320.1" cy="108.9" r="0.55" fill="#555"/><circle cx="317.7" cy="103.7" r="0.61" fill="#555"/><circle cx="318.2" cy="111.4" r="0.43" fill="#555"/><circle cx="323.2" cy="110.8" r="0.55" fill="#555"/><circle cx="314.6" cy="108.1" r="0.46" fill="#555"/><circle cx="319.5" cy="116.4" r="0.70" fill="#555"/><circle cx="317.4" cy="109.4" r="8" fill="#ddd" opacity="0.35" filter="url(#blur2)"/><circle cx="375.7" cy="32.5" r="0.42" fill="#555"/><circle cx="377.9" cy="32.1" r="0.63" fill="#555"/><circle cx="372.1" cy="36.9" r="0.55" fill="#555"/><circle cx="369.8" cy="35.3" r="0.40" fill="#555"/><circle cx="372.3" cy="28.0" r="0.45" fill="#555"/><circle cx="369.1" cy="34.8" r="0.52" fill="#555"/><circle cx="374.8" cy="35.6" r="0.55" fill="#555"/><circle cx="379.6" cy="33.8" r="0.64" fill="#555"/><circle cx="372.4" cy="28.0" r="0.59" fill="#555"/><circle cx="370.2" cy="35.9" r="0.55" fill="#555"/><circle cx="379.4" cy="32.7" r="0.48" fill="#555"/><circle cx="378.4" cy="30.6" r="0.63" fill="#555"/><circle cx="374" cy="33.3" r="6" fill="#ddd" opacity="0.35" filter="url(#blur2)"/><circle cx="306.0" cy="57.7" r="0.67" fill="#555"/><circle cx="307.4" cy="57.7" r="0.63" fill="#555"/><circle cx="305.2" cy="57.5" r="0.62" fill="#555"/><circle cx="307.1" cy="61.0" r="0.54" fill="#555"/><circle cx="305" cy="60" r="4" fill="#ddd" opacity="0.35" filter="url(#blur2)"/><rect x="302" y="23" width="79.0" height="98.0" fill="#000" filter="url(#tnoise)" opacity="0.35"/></g>
<rect x="302.5" y="23.5" width="78.0" height="97.0" fill="none" stroke="#222" stroke-width="1"/>
<g clip-path="url(#cpc3)"><rect x="383" y="23" width="80.0" height="98.0" fill="#f0f0f0"/><g filter="url(#blur2)"><ellipse cx="411.8" cy="37.4" rx="8.5" ry="7" fill="#9a9a9a"/><ellipse cx="418" cy="52.8" rx="9" ry="8" fill="#7a7a7a"/><ellipse cx="447.8" cy="52.8" rx="7" ry="8" fill="#8c8c8c"/><ellipse cx="402.5" cy="82.7" rx="11" ry="11" fill="#585858"/><ellipse cx="395" cy="93" rx="6" ry="5" fill="#7a7a7a"/><ellipse cx="431.4" cy="78.6" rx="6.5" ry="6.5" fill="#aaaaaa"/><ellipse cx="447.8" cy="96" rx="5" ry="5" fill="#ababab"/><circle cx="401" cy="83" r="5" fill="#3a3a3a"/></g><g filter="url(#blur04)"><circle cx="417.6" cy="37.7" r="0.46" fill="#1a1a1a"/><circle cx="408.4" cy="34.7" r="0.54" fill="#1a1a1a"/><circle cx="408.9" cy="33.4" r="0.46" fill="#1a1a1a"/><circle cx="405.3" cy="34.9" r="0.40" fill="#1a1a1a"/><circle cx="419.6" cy="37.4" r="0.48" fill="#1a1a1a"/><circle cx="412.5" cy="29.5" r="0.31" fill="#1a1a1a"/><circle cx="405.5" cy="32.8" r="0.36" fill="#1a1a1a"/><circle cx="410.0" cy="38.4" r="0.35" fill="#1a1a1a"/><circle cx="409.6" cy="39.2" r="0.36" fill="#1a1a1a"/><circle cx="417.8" cy="34.1" r="0.43" fill="#1a1a1a"/><circle cx="419.0" cy="36.2" r="0.55" fill="#1a1a1a"/><circle cx="406.1" cy="31.9" r="0.32" fill="#1a1a1a"/><circle cx="404.8" cy="33.4" r="0.31" fill="#1a1a1a"/><circle cx="415.3" cy="36.0" r="0.42" fill="#1a1a1a"/><circle cx="415.1" cy="42.4" r="0.45" fill="#1a1a1a"/><circle cx="420.7" cy="40.2" r="0.41" fill="#1a1a1a"/><circle cx="404.3" cy="36.4" r="0.39" fill="#1a1a1a"/><circle cx="410.0" cy="43.8" r="0.44" fill="#1a1a1a"/><circle cx="410.1" cy="44.1" r="0.37" fill="#1a1a1a"/><circle cx="416.6" cy="37.8" r="0.31" fill="#1a1a1a"/><circle cx="416.5" cy="43.2" r="0.40" fill="#1a1a1a"/><circle cx="418.6" cy="33.2" r="0.31" fill="#1a1a1a"/><circle cx="421.3" cy="36.8" r="0.32" fill="#1a1a1a"/><circle cx="417.1" cy="34.4" r="0.42" fill="#1a1a1a"/><circle cx="416.6" cy="36.7" r="0.43" fill="#1a1a1a"/><circle cx="419.5" cy="34.8" r="0.42" fill="#1a1a1a"/><circle cx="420.6" cy="36.4" r="0.45" fill="#1a1a1a"/><circle cx="417.6" cy="41.6" r="0.41" fill="#1a1a1a"/><circle cx="412.4" cy="39.2" r="0.43" fill="#1a1a1a"/><circle cx="416.4" cy="41.2" r="0.47" fill="#1a1a1a"/><circle cx="407.0" cy="38.5" r="0.45" fill="#1a1a1a"/><circle cx="404.3" cy="40.8" r="0.43" fill="#1a1a1a"/><circle cx="421.3" cy="37.3" r="0.48" fill="#1a1a1a"/><circle cx="412.0" cy="40.1" r="0.52" fill="#1a1a1a"/><circle cx="413.5" cy="31.2" r="0.39" fill="#1a1a1a"/><circle cx="410.7" cy="44.0" r="0.44" fill="#1a1a1a"/><circle cx="405.3" cy="33.9" r="0.49" fill="#1a1a1a"/><circle cx="413.6" cy="41.1" r="0.54" fill="#1a1a1a"/><circle cx="419.7" cy="33.6" r="0.31" fill="#1a1a1a"/><circle cx="416.5" cy="39.0" r="0.41" fill="#1a1a1a"/><circle cx="409.6" cy="35.6" r="0.44" fill="#1a1a1a"/><circle cx="414.4" cy="38.4" r="0.47" fill="#1a1a1a"/><circle cx="404.4" cy="35.4" r="0.39" fill="#1a1a1a"/><circle cx="407.4" cy="37.9" r="0.39" fill="#1a1a1a"/><circle cx="411.5" cy="30.0" r="0.32" fill="#1a1a1a"/><circle cx="418.2" cy="42.3" r="0.46" fill="#1a1a1a"/><circle cx="412.3" cy="33.7" r="0.41" fill="#1a1a1a"/><circle cx="411.4" cy="44.6" r="0.39" fill="#1a1a1a"/><circle cx="406.3" cy="30.8" r="0.38" fill="#1a1a1a"/><circle cx="403.7" cy="35.3" r="0.53" fill="#1a1a1a"/><circle cx="406.5" cy="39.5" r="0.32" fill="#1a1a1a"/><circle cx="413.7" cy="35.8" r="0.32" fill="#1a1a1a"/><circle cx="405.5" cy="35.2" r="0.47" fill="#1a1a1a"/><circle cx="409.2" cy="44.2" r="0.32" fill="#1a1a1a"/><circle cx="413.6" cy="43.8" r="0.32" fill="#1a1a1a"/><circle cx="409.0" cy="43.9" r="0.47" fill="#1a1a1a"/><circle cx="411.0" cy="40.4" r="0.39" fill="#1a1a1a"/><circle cx="410.9" cy="32.6" r="0.33" fill="#1a1a1a"/><circle cx="409.9" cy="31.5" r="0.53" fill="#1a1a1a"/><circle cx="420.5" cy="34.6" r="0.41" fill="#1a1a1a"/><circle cx="419.9" cy="48.0" r="0.38" fill="#1a1a1a"/><circle cx="409.9" cy="58.0" r="0.52" fill="#1a1a1a"/><circle cx="418.1" cy="58.3" r="0.39" fill="#1a1a1a"/><circle cx="413.7" cy="57.2" r="0.40" fill="#1a1a1a"/><circle cx="420.6" cy="59.3" r="0.50" fill="#1a1a1a"/><circle cx="408.8" cy="50.7" r="0.44" fill="#1a1a1a"/><circle cx="422.0" cy="60.0" r="0.52" fill="#1a1a1a"/><circle cx="417.7" cy="54.1" r="0.43" fill="#1a1a1a"/><circle cx="410.5" cy="50.9" r="0.54" fill="#1a1a1a"/><circle cx="412.6" cy="46.1" r="0.32" fill="#1a1a1a"/><circle cx="409.2" cy="50.4" r="0.32" fill="#1a1a1a"/><circle cx="425.7" cy="56.7" r="0.52" fill="#1a1a1a"/><circle cx="425.1" cy="56.5" r="0.34" fill="#1a1a1a"/><circle cx="417.8" cy="45.4" r="0.36" fill="#1a1a1a"/><circle cx="419.7" cy="60.7" r="0.43" fill="#1a1a1a"/><circle cx="418.6" cy="47.0" r="0.38" fill="#1a1a1a"/><circle cx="426.3" cy="51.3" r="0.42" fill="#1a1a1a"/><circle cx="409.5" cy="51.0" r="0.48" fill="#1a1a1a"/><circle cx="423.7" cy="49.8" r="0.51" fill="#1a1a1a"/><circle cx="413.2" cy="45.4" r="0.50" fill="#1a1a1a"/><circle cx="422.9" cy="45.3" r="0.54" fill="#1a1a1a"/><circle cx="413.2" cy="47.7" r="0.48" fill="#1a1a1a"/><circle cx="420.2" cy="47.1" r="0.41" fill="#1a1a1a"/><circle cx="423.4" cy="59.1" r="0.55" fill="#1a1a1a"/><circle cx="415.0" cy="55.5" r="0.35" fill="#1a1a1a"/><circle cx="413.0" cy="55.1" r="0.54" fill="#1a1a1a"/><circle cx="423.4" cy="54.7" r="0.33" fill="#1a1a1a"/><circle cx="412.5" cy="46.3" r="0.34" fill="#1a1a1a"/><circle cx="424.5" cy="55.2" r="0.45" fill="#1a1a1a"/><circle cx="419.7" cy="51.9" r="0.33" fill="#1a1a1a"/><circle cx="419.9" cy="56.7" r="0.36" fill="#1a1a1a"/><circle cx="416.4" cy="45.9" r="0.36" fill="#1a1a1a"/><circle cx="420.2" cy="57.3" r="0.34" fill="#1a1a1a"/><circle cx="418.3" cy="47.7" r="0.44" fill="#1a1a1a"/><circle cx="420.9" cy="47.0" r="0.37" fill="#1a1a1a"/><circle cx="425.5" cy="47.1" r="0.39" fill="#1a1a1a"/><circle cx="408.3" cy="50.2" r="0.42" fill="#1a1a1a"/><circle cx="418.4" cy="54.8" r="0.54" fill="#1a1a1a"/><circle cx="420.0" cy="47.4" r="0.43" fill="#1a1a1a"/><circle cx="412.6" cy="52.3" r="0.55" fill="#1a1a1a"/><circle cx="415.2" cy="49.1" r="0.30" fill="#1a1a1a"/><circle cx="411.8" cy="53.8" r="0.50" fill="#1a1a1a"/><circle cx="416.2" cy="45.8" r="0.34" fill="#1a1a1a"/><circle cx="421.2" cy="57.2" r="0.36" fill="#1a1a1a"/><circle cx="423.1" cy="48.0" r="0.46" fill="#1a1a1a"/><circle cx="423.3" cy="52.6" r="0.43" fill="#1a1a1a"/><circle cx="423.3" cy="59.4" r="0.30" fill="#1a1a1a"/><circle cx="422.1" cy="45.2" r="0.51" fill="#1a1a1a"/><circle cx="422.7" cy="55.2" r="0.48" fill="#1a1a1a"/><circle cx="423.9" cy="56.5" r="0.42" fill="#1a1a1a"/><circle cx="425.6" cy="50.9" r="0.51" fill="#1a1a1a"/><circle cx="415.0" cy="60.5" r="0.40" fill="#1a1a1a"/><circle cx="420.7" cy="51.4" r="0.51" fill="#1a1a1a"/><circle cx="420.0" cy="59.4" r="0.43" fill="#1a1a1a"/><circle cx="423.2" cy="59.8" r="0.38" fill="#1a1a1a"/><circle cx="416.9" cy="55.2" r="0.38" fill="#1a1a1a"/><circle cx="409.4" cy="54.4" r="0.39" fill="#1a1a1a"/><circle cx="416.7" cy="50.0" r="0.40" fill="#1a1a1a"/><circle cx="408.1" cy="55.0" r="0.51" fill="#1a1a1a"/><circle cx="417.3" cy="52.0" r="0.39" fill="#1a1a1a"/><circle cx="416.7" cy="48.5" r="0.44" fill="#1a1a1a"/><circle cx="417.0" cy="53.0" r="0.55" fill="#1a1a1a"/><circle cx="419.4" cy="48.8" r="0.45" fill="#1a1a1a"/><circle cx="416.4" cy="58.3" r="0.43" fill="#1a1a1a"/><circle cx="416.2" cy="57.9" r="0.40" fill="#1a1a1a"/><circle cx="415.4" cy="48.8" r="0.35" fill="#1a1a1a"/><circle cx="417.3" cy="47.6" r="0.54" fill="#1a1a1a"/><circle cx="409.9" cy="49.8" r="0.38" fill="#1a1a1a"/><circle cx="419.5" cy="50.3" r="0.34" fill="#1a1a1a"/><circle cx="425.1" cy="57.0" r="0.48" fill="#1a1a1a"/><circle cx="420.8" cy="58.1" r="0.51" fill="#1a1a1a"/><circle cx="415.4" cy="51.3" r="0.36" fill="#1a1a1a"/><circle cx="420.0" cy="55.5" r="0.40" fill="#1a1a1a"/><circle cx="426.9" cy="56.7" r="0.41" fill="#1a1a1a"/><circle cx="409.7" cy="52.3" r="0.49" fill="#1a1a1a"/><circle cx="420.8" cy="47.6" r="0.38" fill="#1a1a1a"/><circle cx="416.9" cy="53.4" r="0.40" fill="#1a1a1a"/><circle cx="414.8" cy="44.1" r="0.50" fill="#1a1a1a"/><circle cx="413.7" cy="46.7" r="0.30" fill="#1a1a1a"/><circle cx="415.0" cy="57.5" r="0.46" fill="#1a1a1a"/><circle cx="423.0" cy="56.3" r="0.43" fill="#1a1a1a"/><circle cx="420.3" cy="44.7" r="0.45" fill="#1a1a1a"/><circle cx="422.9" cy="59.6" r="0.53" fill="#1a1a1a"/><circle cx="412.1" cy="51.2" r="0.43" fill="#1a1a1a"/><circle cx="423.5" cy="58.8" r="0.55" fill="#1a1a1a"/><circle cx="409.3" cy="52.0" r="0.51" fill="#1a1a1a"/><circle cx="421.3" cy="61.3" r="0.46" fill="#1a1a1a"/><circle cx="419.0" cy="55.3" r="0.36" fill="#1a1a1a"/><circle cx="410.3" cy="49.2" r="0.38" fill="#1a1a1a"/><circle cx="423.6" cy="50.4" r="0.42" fill="#1a1a1a"/><circle cx="453.5" cy="59.2" r="0.33" fill="#1a1a1a"/><circle cx="452.7" cy="49.0" r="0.44" fill="#1a1a1a"/><circle cx="444.0" cy="51.0" r="0.53" fill="#1a1a1a"/><circle cx="455.1" cy="52.4" r="0.45" fill="#1a1a1a"/><circle cx="453.0" cy="58.6" r="0.37" fill="#1a1a1a"/><circle cx="451.0" cy="50.1" r="0.44" fill="#1a1a1a"/><circle cx="449.5" cy="49.3" r="0.44" fill="#1a1a1a"/><circle cx="449.1" cy="53.6" r="0.35" fill="#1a1a1a"/><circle cx="455.6" cy="52.1" r="0.46" fill="#1a1a1a"/><circle cx="445.5" cy="59.8" r="0.48" fill="#1a1a1a"/><circle cx="443.2" cy="57.6" r="0.50" fill="#1a1a1a"/><circle cx="451.4" cy="53.2" r="0.42" fill="#1a1a1a"/><circle cx="450.9" cy="57.3" r="0.44" fill="#1a1a1a"/><circle cx="450.5" cy="58.7" r="0.37" fill="#1a1a1a"/><circle cx="443.6" cy="50.6" r="0.46" fill="#1a1a1a"/><circle cx="454.2" cy="54.6" r="0.34" fill="#1a1a1a"/><circle cx="453.8" cy="51.0" r="0.42" fill="#1a1a1a"/><circle cx="442.4" cy="56.6" r="0.47" fill="#1a1a1a"/><circle cx="448.2" cy="44.8" r="0.42" fill="#1a1a1a"/><circle cx="455.2" cy="52.5" r="0.51" fill="#1a1a1a"/><circle cx="443.3" cy="56.1" r="0.44" fill="#1a1a1a"/><circle cx="452.6" cy="49.1" r="0.43" fill="#1a1a1a"/><circle cx="440.8" cy="56.4" r="0.38" fill="#1a1a1a"/><circle cx="454.3" cy="55.4" r="0.53" fill="#1a1a1a"/><circle cx="447.1" cy="45.7" r="0.49" fill="#1a1a1a"/><circle cx="445.7" cy="59.5" r="0.32" fill="#1a1a1a"/><circle cx="451.6" cy="57.1" r="0.43" fill="#1a1a1a"/><circle cx="446.3" cy="54.1" r="0.47" fill="#1a1a1a"/><circle cx="443.9" cy="52.1" r="0.38" fill="#1a1a1a"/><circle cx="444.7" cy="55.5" r="0.32" fill="#1a1a1a"/><circle cx="454.5" cy="48.0" r="0.47" fill="#1a1a1a"/><circle cx="451.3" cy="48.4" r="0.50" fill="#1a1a1a"/><circle cx="449.0" cy="60.6" r="0.44" fill="#1a1a1a"/><circle cx="449.9" cy="51.2" r="0.50" fill="#1a1a1a"/><circle cx="452.0" cy="57.5" r="0.54" fill="#1a1a1a"/><circle cx="451.8" cy="52.8" r="0.37" fill="#1a1a1a"/><circle cx="446.9" cy="54.9" r="0.52" fill="#1a1a1a"/><circle cx="449.8" cy="47.5" r="0.39" fill="#1a1a1a"/><circle cx="446.3" cy="51.8" r="0.31" fill="#1a1a1a"/><circle cx="451.4" cy="49.8" r="0.42" fill="#1a1a1a"/><circle cx="455.1" cy="49.1" r="0.42" fill="#1a1a1a"/><circle cx="449.0" cy="57.6" r="0.53" fill="#1a1a1a"/><circle cx="450.6" cy="50.3" r="0.51" fill="#1a1a1a"/><circle cx="444.4" cy="57.8" r="0.34" fill="#1a1a1a"/><circle cx="453.6" cy="46.5" r="0.35" fill="#1a1a1a"/><circle cx="445.4" cy="49.8" r="0.52" fill="#1a1a1a"/><circle cx="450.3" cy="53.7" r="0.48" fill="#1a1a1a"/><circle cx="444.9" cy="60.9" r="0.52" fill="#1a1a1a"/><circle cx="447.1" cy="49.5" r="0.47" fill="#1a1a1a"/><circle cx="452.8" cy="50.5" r="0.32" fill="#1a1a1a"/><circle cx="448.5" cy="57.8" r="0.48" fill="#1a1a1a"/><circle cx="448.9" cy="56.5" r="0.36" fill="#1a1a1a"/><circle cx="444.1" cy="45.8" r="0.39" fill="#1a1a1a"/><circle cx="443.8" cy="45.4" r="0.45" fill="#1a1a1a"/><circle cx="448.4" cy="57.8" r="0.53" fill="#1a1a1a"/><circle cx="445.7" cy="48.6" r="0.46" fill="#1a1a1a"/><circle cx="454.5" cy="57.7" r="0.41" fill="#1a1a1a"/><circle cx="442.0" cy="51.6" r="0.31" fill="#1a1a1a"/><circle cx="444.3" cy="49.9" r="0.36" fill="#1a1a1a"/><circle cx="448.6" cy="50.2" r="0.37" fill="#1a1a1a"/><circle cx="402.7" cy="76.4" r="0.37" fill="#1a1a1a"/><circle cx="397.3" cy="81.1" r="0.52" fill="#1a1a1a"/><circle cx="404.8" cy="82.5" r="0.42" fill="#1a1a1a"/><circle cx="402.5" cy="74.9" r="0.53" fill="#1a1a1a"/><circle cx="397.1" cy="82.7" r="0.44" fill="#1a1a1a"/><circle cx="397.8" cy="76.7" r="0.46" fill="#1a1a1a"/><circle cx="404.4" cy="73.8" r="0.43" fill="#1a1a1a"/><circle cx="408.4" cy="74.1" r="0.43" fill="#1a1a1a"/><circle cx="407.5" cy="81.1" r="0.49" fill="#1a1a1a"/><circle cx="407.5" cy="91.2" r="0.36" fill="#1a1a1a"/><circle cx="392.1" cy="86.8" r="0.50" fill="#1a1a1a"/><circle cx="404.1" cy="76.8" r="0.42" fill="#1a1a1a"/><circle cx="404.2" cy="92.2" r="0.42" fill="#1a1a1a"/><circle cx="412.0" cy="84.9" r="0.48" fill="#1a1a1a"/><circle cx="391.9" cy="77.5" r="0.35" fill="#1a1a1a"/><circle cx="403.5" cy="84.1" r="0.42" fill="#1a1a1a"/><circle cx="394.8" cy="86.1" r="0.37" fill="#1a1a1a"/><circle cx="403.5" cy="79.4" r="0.53" fill="#1a1a1a"/><circle cx="394.0" cy="78.8" r="0.50" fill="#1a1a1a"/><circle cx="402.9" cy="87.5" r="0.38" fill="#1a1a1a"/><circle cx="409.3" cy="84.6" r="0.46" fill="#1a1a1a"/><circle cx="396.1" cy="81.7" r="0.45" fill="#1a1a1a"/><circle cx="412.2" cy="88.7" r="0.34" fill="#1a1a1a"/><circle cx="402.3" cy="87.8" r="0.47" fill="#1a1a1a"/><circle cx="408.0" cy="72.9" r="0.32" fill="#1a1a1a"/><circle cx="396.0" cy="86.8" r="0.35" fill="#1a1a1a"/><circle cx="405.1" cy="82.2" r="0.42" fill="#1a1a1a"/><circle cx="403.4" cy="70.2" r="0.34" fill="#1a1a1a"/><circle cx="392.0" cy="85.7" r="0.31" fill="#1a1a1a"/><circle cx="403.2" cy="94.6" r="0.34" fill="#1a1a1a"/><circle cx="397.1" cy="87.0" r="0.41" fill="#1a1a1a"/><circle cx="404.6" cy="83.8" r="0.55" fill="#1a1a1a"/><circle cx="403.4" cy="71.9" r="0.36" fill="#1a1a1a"/><circle cx="402.3" cy="92.1" r="0.36" fill="#1a1a1a"/><circle cx="390.6" cy="85.6" r="0.39" fill="#1a1a1a"/><circle cx="396.0" cy="93.4" r="0.45" fill="#1a1a1a"/><circle cx="410.3" cy="84.7" r="0.46" fill="#1a1a1a"/><circle cx="409.4" cy="85.4" r="0.47" fill="#1a1a1a"/><circle cx="408.9" cy="75.4" r="0.52" fill="#1a1a1a"/><circle cx="394.8" cy="84.5" r="0.51" fill="#1a1a1a"/><circle cx="394.3" cy="90.3" r="0.35" fill="#1a1a1a"/><circle cx="399.4" cy="87.1" r="0.44" fill="#1a1a1a"/><circle cx="405.4" cy="87.6" r="0.35" fill="#1a1a1a"/><circle cx="395.6" cy="84.1" r="0.41" fill="#1a1a1a"/><circle cx="412.9" cy="82.3" r="0.52" fill="#1a1a1a"/><circle cx="404.7" cy="90.2" r="0.32" fill="#1a1a1a"/><circle cx="399.8" cy="75.6" r="0.37" fill="#1a1a1a"/><circle cx="407.9" cy="83.3" r="0.37" fill="#1a1a1a"/><circle cx="393.0" cy="90.3" r="0.48" fill="#1a1a1a"/><circle cx="401.6" cy="90.2" r="0.34" fill="#1a1a1a"/><circle cx="409.5" cy="79.8" r="0.49" fill="#1a1a1a"/><circle cx="400.5" cy="70.8" r="0.31" fill="#1a1a1a"/><circle cx="399.1" cy="89.8" r="0.32" fill="#1a1a1a"/><circle cx="407.8" cy="77.8" r="0.49" fill="#1a1a1a"/><circle cx="399.6" cy="82.3" r="0.40" fill="#1a1a1a"/><circle cx="402.7" cy="85.2" r="0.34" fill="#1a1a1a"/><circle cx="400.6" cy="81.4" r="0.38" fill="#1a1a1a"/><circle cx="394.2" cy="87.0" r="0.33" fill="#1a1a1a"/><circle cx="400.8" cy="76.5" r="0.48" fill="#1a1a1a"/><circle cx="400.1" cy="78.5" r="0.35" fill="#1a1a1a"/><circle cx="400.5" cy="93.2" r="0.40" fill="#1a1a1a"/><circle cx="393.6" cy="90.4" r="0.36" fill="#1a1a1a"/><circle cx="400.6" cy="89.9" r="0.35" fill="#1a1a1a"/><circle cx="404.4" cy="83.2" r="0.46" fill="#1a1a1a"/><circle cx="392.1" cy="78.1" r="0.54" fill="#1a1a1a"/><circle cx="399.4" cy="92.6" r="0.53" fill="#1a1a1a"/><circle cx="404.7" cy="93.0" r="0.47" fill="#1a1a1a"/><circle cx="413.8" cy="79.4" r="0.36" fill="#1a1a1a"/><circle cx="399.9" cy="79.9" r="0.41" fill="#1a1a1a"/><circle cx="400.1" cy="84.6" r="0.40" fill="#1a1a1a"/><circle cx="398.3" cy="90.6" r="0.37" fill="#1a1a1a"/><circle cx="406.9" cy="89.4" r="0.42" fill="#1a1a1a"/><circle cx="407.7" cy="91.6" r="0.36" fill="#1a1a1a"/><circle cx="408.7" cy="86.8" r="0.41" fill="#1a1a1a"/><circle cx="408.1" cy="90.5" r="0.48" fill="#1a1a1a"/><circle cx="392.5" cy="79.2" r="0.31" fill="#1a1a1a"/><circle cx="396.6" cy="87.5" r="0.32" fill="#1a1a1a"/><circle cx="400.1" cy="84.4" r="0.42" fill="#1a1a1a"/><circle cx="395.1" cy="78.2" r="0.38" fill="#1a1a1a"/><circle cx="402.5" cy="84.6" r="0.39" fill="#1a1a1a"/><circle cx="409.9" cy="76.7" r="0.37" fill="#1a1a1a"/><circle cx="399.8" cy="78.0" r="0.42" fill="#1a1a1a"/><circle cx="393.2" cy="74.5" r="0.39" fill="#1a1a1a"/><circle cx="391.6" cy="77.0" r="0.49" fill="#1a1a1a"/><circle cx="395.6" cy="75.6" r="0.40" fill="#1a1a1a"/><circle cx="396.8" cy="86.1" r="0.51" fill="#1a1a1a"/><circle cx="408.2" cy="77.3" r="0.53" fill="#1a1a1a"/><circle cx="407.0" cy="83.8" r="0.43" fill="#1a1a1a"/><circle cx="399.8" cy="89.8" r="0.54" fill="#1a1a1a"/><circle cx="405.8" cy="87.2" r="0.36" fill="#1a1a1a"/><circle cx="399.9" cy="77.2" r="0.30" fill="#1a1a1a"/><circle cx="394.9" cy="80.5" r="0.36" fill="#1a1a1a"/><circle cx="392.3" cy="83.1" r="0.44" fill="#1a1a1a"/><circle cx="395.8" cy="76.0" r="0.51" fill="#1a1a1a"/><circle cx="409.7" cy="81.3" r="0.39" fill="#1a1a1a"/><circle cx="407.8" cy="78.1" r="0.48" fill="#1a1a1a"/><circle cx="399.0" cy="72.8" r="0.54" fill="#1a1a1a"/><circle cx="404.8" cy="78.2" r="0.46" fill="#1a1a1a"/><circle cx="393.0" cy="83.3" r="0.39" fill="#1a1a1a"/><circle cx="400.1" cy="93.4" r="0.43" fill="#1a1a1a"/><circle cx="403.0" cy="89.0" r="0.38" fill="#1a1a1a"/><circle cx="406.5" cy="90.8" r="0.33" fill="#1a1a1a"/><circle cx="405.6" cy="84.0" r="0.33" fill="#1a1a1a"/><circle cx="401.3" cy="78.6" r="0.41" fill="#1a1a1a"/><circle cx="403.7" cy="74.0" r="0.34" fill="#1a1a1a"/><circle cx="410.4" cy="73.9" r="0.31" fill="#1a1a1a"/><circle cx="402.3" cy="91.7" r="0.50" fill="#1a1a1a"/><circle cx="394.2" cy="89.4" r="0.36" fill="#1a1a1a"/><circle cx="401.0" cy="75.6" r="0.38" fill="#1a1a1a"/><circle cx="403.2" cy="71.1" r="0.51" fill="#1a1a1a"/><circle cx="395.0" cy="79.3" r="0.48" fill="#1a1a1a"/><circle cx="394.2" cy="74.7" r="0.50" fill="#1a1a1a"/><circle cx="408.0" cy="88.2" r="0.47" fill="#1a1a1a"/><circle cx="403.1" cy="88.1" r="0.30" fill="#1a1a1a"/><circle cx="392.0" cy="76.4" r="0.54" fill="#1a1a1a"/><circle cx="409.5" cy="90.5" r="0.40" fill="#1a1a1a"/><circle cx="397.1" cy="76.8" r="0.53" fill="#1a1a1a"/><circle cx="405.3" cy="82.5" r="0.48" fill="#1a1a1a"/><circle cx="404.4" cy="84.5" r="0.37" fill="#1a1a1a"/><circle cx="401.0" cy="70.2" r="0.33" fill="#1a1a1a"/><circle cx="401.5" cy="84.5" r="0.44" fill="#1a1a1a"/><circle cx="394.8" cy="83.5" r="0.38" fill="#1a1a1a"/><circle cx="406.1" cy="71.7" r="0.37" fill="#1a1a1a"/><circle cx="394.8" cy="89.0" r="0.49" fill="#1a1a1a"/><circle cx="410.3" cy="81.8" r="0.47" fill="#1a1a1a"/><circle cx="391.7" cy="79.5" r="0.34" fill="#1a1a1a"/><circle cx="404.4" cy="86.4" r="0.53" fill="#1a1a1a"/><circle cx="402.4" cy="91.5" r="0.33" fill="#1a1a1a"/><circle cx="401.7" cy="84.3" r="0.44" fill="#1a1a1a"/><circle cx="408.7" cy="90.6" r="0.37" fill="#1a1a1a"/><circle cx="403.7" cy="91.4" r="0.39" fill="#1a1a1a"/><circle cx="402.3" cy="85.6" r="0.32" fill="#1a1a1a"/><circle cx="408.0" cy="78.3" r="0.32" fill="#1a1a1a"/><circle cx="406.1" cy="90.7" r="0.55" fill="#1a1a1a"/><circle cx="406.0" cy="94.0" r="0.42" fill="#1a1a1a"/><circle cx="392.7" cy="88.5" r="0.40" fill="#1a1a1a"/><circle cx="411.3" cy="86.0" r="0.46" fill="#1a1a1a"/><circle cx="397.7" cy="78.1" r="0.53" fill="#1a1a1a"/><circle cx="410.8" cy="73.2" r="0.41" fill="#1a1a1a"/><circle cx="407.9" cy="73.4" r="0.34" fill="#1a1a1a"/><circle cx="397.8" cy="93.4" r="0.33" fill="#1a1a1a"/><circle cx="398.7" cy="94.6" r="0.49" fill="#1a1a1a"/><circle cx="393.2" cy="96.8" r="0.30" fill="#1a1a1a"/><circle cx="396.7" cy="98.5" r="0.30" fill="#1a1a1a"/><circle cx="388.9" cy="92.1" r="0.50" fill="#1a1a1a"/><circle cx="394.6" cy="89.4" r="0.50" fill="#1a1a1a"/><circle cx="397.8" cy="88.5" r="0.55" fill="#1a1a1a"/><circle cx="400.4" cy="96.3" r="0.40" fill="#1a1a1a"/><circle cx="394.0" cy="90.2" r="0.53" fill="#1a1a1a"/><circle cx="400.2" cy="93.6" r="0.36" fill="#1a1a1a"/><circle cx="391.8" cy="95.3" r="0.46" fill="#1a1a1a"/><circle cx="396.6" cy="89.8" r="0.46" fill="#1a1a1a"/><circle cx="392.8" cy="95.4" r="0.53" fill="#1a1a1a"/><circle cx="394.1" cy="94.6" r="0.38" fill="#1a1a1a"/><circle cx="394.8" cy="90.4" r="0.49" fill="#1a1a1a"/><circle cx="389.5" cy="91.6" r="0.34" fill="#1a1a1a"/><circle cx="397.1" cy="94.3" r="0.39" fill="#1a1a1a"/><circle cx="394.4" cy="93.2" r="0.43" fill="#1a1a1a"/><circle cx="391.8" cy="94.9" r="0.43" fill="#1a1a1a"/><circle cx="398.0" cy="92.2" r="0.52" fill="#1a1a1a"/><circle cx="392.4" cy="97.5" r="0.33" fill="#1a1a1a"/><circle cx="399.5" cy="92.7" r="0.54" fill="#1a1a1a"/><circle cx="395.8" cy="96.6" r="0.48" fill="#1a1a1a"/><circle cx="396.6" cy="95.7" r="0.47" fill="#1a1a1a"/><circle cx="398.7" cy="91.9" r="0.35" fill="#1a1a1a"/><circle cx="390.7" cy="97.5" r="0.34" fill="#1a1a1a"/><circle cx="392.2" cy="90.4" r="0.46" fill="#1a1a1a"/><circle cx="396.3" cy="97.4" r="0.52" fill="#1a1a1a"/><circle cx="398.4" cy="89.4" r="0.43" fill="#1a1a1a"/><circle cx="392.9" cy="92.2" r="0.51" fill="#1a1a1a"/><circle cx="393.3" cy="89.4" r="0.47" fill="#1a1a1a"/><circle cx="391.3" cy="94.7" r="0.36" fill="#1a1a1a"/><circle cx="390.8" cy="90.4" r="0.43" fill="#1a1a1a"/><circle cx="400.4" cy="93.9" r="0.41" fill="#1a1a1a"/><circle cx="390.6" cy="90.5" r="0.53" fill="#1a1a1a"/><circle cx="397.7" cy="96.2" r="0.55" fill="#1a1a1a"/><circle cx="394.7" cy="89.8" r="0.48" fill="#1a1a1a"/><circle cx="399.4" cy="92.8" r="0.52" fill="#1a1a1a"/><circle cx="399.8" cy="97.1" r="0.42" fill="#1a1a1a"/><circle cx="395.6" cy="98.2" r="0.46" fill="#1a1a1a"/><circle cx="437.7" cy="76.0" r="0.50" fill="#1a1a1a"/><circle cx="424.0" cy="78.1" r="0.32" fill="#1a1a1a"/><circle cx="435.7" cy="74.0" r="0.36" fill="#1a1a1a"/><circle cx="433.2" cy="73.9" r="0.43" fill="#1a1a1a"/><circle cx="433.6" cy="76.1" r="0.37" fill="#1a1a1a"/><circle cx="430.1" cy="77.0" r="0.44" fill="#1a1a1a"/><circle cx="432.6" cy="73.5" r="0.36" fill="#1a1a1a"/><circle cx="433.5" cy="72.0" r="0.49" fill="#1a1a1a"/><circle cx="424.6" cy="76.4" r="0.50" fill="#1a1a1a"/><circle cx="434.0" cy="82.3" r="0.33" fill="#1a1a1a"/><circle cx="435.7" cy="79.6" r="0.52" fill="#1a1a1a"/><circle cx="432.7" cy="76.4" r="0.35" fill="#1a1a1a"/><circle cx="426.1" cy="83.0" r="0.45" fill="#1a1a1a"/><circle cx="433.0" cy="77.4" r="0.55" fill="#1a1a1a"/><circle cx="433.0" cy="84.3" r="0.52" fill="#1a1a1a"/><circle cx="430.9" cy="75.3" r="0.47" fill="#1a1a1a"/><circle cx="430.6" cy="79.0" r="0.38" fill="#1a1a1a"/><circle cx="429.0" cy="84.0" r="0.37" fill="#1a1a1a"/><circle cx="426.4" cy="74.8" r="0.35" fill="#1a1a1a"/><circle cx="435.7" cy="83.1" r="0.42" fill="#1a1a1a"/><circle cx="433.2" cy="80.4" r="0.54" fill="#1a1a1a"/><circle cx="428.0" cy="75.8" r="0.35" fill="#1a1a1a"/><circle cx="437.6" cy="78.4" r="0.48" fill="#1a1a1a"/><circle cx="428.7" cy="81.8" r="0.40" fill="#1a1a1a"/><circle cx="435.0" cy="83.3" r="0.41" fill="#1a1a1a"/><circle cx="449.4" cy="92.7" r="0.41" fill="#1a1a1a"/><circle cx="442.2" cy="95.8" r="0.39" fill="#1a1a1a"/><circle cx="447.0" cy="93.3" r="0.44" fill="#1a1a1a"/><circle cx="446.6" cy="101.2" r="0.37" fill="#1a1a1a"/><circle cx="450.7" cy="92.3" r="0.41" fill="#1a1a1a"/><circle cx="451.1" cy="94.6" r="0.49" fill="#1a1a1a"/><circle cx="444.7" cy="93.7" r="0.32" fill="#1a1a1a"/><circle cx="445.1" cy="97.5" r="0.41" fill="#1a1a1a"/><circle cx="450.8" cy="95.1" r="0.47" fill="#1a1a1a"/><circle cx="446.5" cy="93.5" r="0.40" fill="#1a1a1a"/><circle cx="451.5" cy="100.0" r="0.36" fill="#1a1a1a"/><circle cx="444.8" cy="97.6" r="0.51" fill="#1a1a1a"/><circle cx="450.4" cy="92.4" r="0.44" fill="#1a1a1a"/><circle cx="452.2" cy="99.2" r="0.32" fill="#1a1a1a"/><circle cx="445.5" cy="98.7" r="0.48" fill="#1a1a1a"/><circle cx="446.2" cy="93.1" r="0.52" fill="#1a1a1a"/><circle cx="448.6" cy="95.7" r="0.46" fill="#1a1a1a"/><circle cx="444.4" cy="96.7" r="0.42" fill="#1a1a1a"/><circle cx="445.9" cy="100.3" r="0.45" fill="#1a1a1a"/><circle cx="453.4" cy="94.9" r="0.55" fill="#1a1a1a"/></g><circle cx="415.2" cy="95.6" r="0.6" fill="#333"/><circle cx="434.1" cy="84.9" r="0.6" fill="#333"/><circle cx="459.8" cy="31.6" r="0.6" fill="#333"/><circle cx="420.2" cy="59.7" r="0.6" fill="#333"/><circle cx="434.5" cy="44.3" r="0.6" fill="#333"/><circle cx="459.2" cy="43.6" r="0.6" fill="#333"/><circle cx="413.4" cy="38.0" r="0.6" fill="#333"/><circle cx="415.2" cy="88.3" r="0.6" fill="#333"/><circle cx="392.2" cy="40.0" r="0.6" fill="#333"/><circle cx="434.0" cy="78.3" r="0.6" fill="#333"/><circle cx="440.9" cy="47.3" r="0.6" fill="#333"/><circle cx="446.0" cy="87.4" r="0.6" fill="#333"/><rect x="383" y="23" width="80.0" height="98.0" fill="#000" filter="url(#tnoise)" opacity="0.35"/></g>
<rect x="383.5" y="23.5" width="79.0" height="97.0" fill="none" stroke="#222" stroke-width="1"/>
<g clip-path="url(#cpc4)"><rect x="220" y="144" width="79.0" height="79.0" fill="#e2e2e2"/><rect x="220" y="144" width="79" height="79" fill="#000" filter="url(#tnoise2)" opacity="0.9"/><g filter="url(#blur09)"><circle cx="225.8" cy="149" r="2.18" fill="#111"/><circle cx="265.1" cy="152.6" r="2.18" fill="#111"/><circle cx="227" cy="166.4" r="2.18" fill="#111"/><circle cx="259.5" cy="166.9" r="1.79" fill="#111"/><circle cx="281" cy="165.9" r="2.03" fill="#111"/><circle cx="244.5" cy="177.5" r="2.03" fill="#111"/><circle cx="258.5" cy="187.4" r="2.03" fill="#111"/><circle cx="271.7" cy="190.8" r="2.42" fill="#111"/><circle cx="222" cy="202" r="2.18" fill="#111"/><circle cx="237.9" cy="201.7" r="2.18" fill="#111"/><circle cx="234.6" cy="215.6" r="2.18" fill="#111"/><circle cx="243.5" cy="149" r="1.84" fill="#444"/><circle cx="278" cy="154" r="1.84" fill="#444"/><circle cx="243.5" cy="158.1" r="1.76" fill="#444"/><circle cx="279.7" cy="178" r="1.61" fill="#808080"/><circle cx="286" cy="178.8" r="1.61" fill="#808080"/><circle cx="249.5" cy="191.8" r="1.61" fill="#808080"/><circle cx="235" cy="191.8" r="1.61" fill="#808080"/><circle cx="276.4" cy="201.2" r="1.61" fill="#808080"/><circle cx="254" cy="182.5" r="1.36" fill="#808080"/><circle cx="283.8" cy="207" r="1.70" fill="#808080"/></g><rect x="220" y="144" width="79.0" height="79.0" fill="#000" filter="url(#tnoise)" opacity="0.35"/></g>
<rect x="220.5" y="144.5" width="78.0" height="78.0" fill="none" stroke="#222" stroke-width="1"/>
<g clip-path="url(#cpc5)"><rect x="302" y="144" width="79.0" height="79.0" fill="#f0f0f0"/><g filter="url(#blur07)"><circle cx="321.6" cy="164.3" r="1.27" fill="#3a3a3a"/><circle cx="324.8" cy="160" r="0.94" fill="#3a3a3a"/><circle cx="335.8" cy="169.4" r="1.87" fill="#3a3a3a"/><circle cx="347.5" cy="169" r="1.61" fill="#3a3a3a"/><circle cx="357" cy="164.9" r="1.87" fill="#3a3a3a"/><circle cx="330.5" cy="167.5" r="1.10" fill="#3a3a3a"/><circle cx="326" cy="175.6" r="1.27" fill="#3a3a3a"/><circle cx="329.8" cy="175.6" r="1.10" fill="#3a3a3a"/><circle cx="338" cy="181" r="1.87" fill="#3a3a3a"/><circle cx="351.9" cy="176.2" r="1.44" fill="#3a3a3a"/><circle cx="321" cy="183.2" r="2.12" fill="#3a3a3a"/><circle cx="355.3" cy="185.7" r="1.44" fill="#3a3a3a"/><circle cx="361.7" cy="184.1" r="1.27" fill="#3a3a3a"/><circle cx="354.1" cy="189.4" r="1.10" fill="#3a3a3a"/><circle cx="373.2" cy="178.9" r="1.10" fill="#3a3a3a"/><circle cx="311.2" cy="187.9" r="1.10" fill="#3a3a3a"/><circle cx="321.8" cy="191.7" r="1.44" fill="#3a3a3a"/><circle cx="335.8" cy="191" r="1.70" fill="#3a3a3a"/><circle cx="343.4" cy="195.9" r="1.27" fill="#3a3a3a"/><circle cx="341.1" cy="198.9" r="1.10" fill="#3a3a3a"/><circle cx="357.5" cy="195.5" r="1.44" fill="#3a3a3a"/><circle cx="368.3" cy="192.7" r="1.27" fill="#3a3a3a"/><circle cx="348.1" cy="201.2" r="1.27" fill="#3a3a3a"/><circle cx="354.1" cy="202.1" r="1.02" fill="#3a3a3a"/><circle cx="363.2" cy="200.8" r="1.02" fill="#3a3a3a"/><circle cx="333.9" cy="207.2" r="1.44" fill="#3a3a3a"/><circle cx="324.1" cy="208.7" r="1.10" fill="#3a3a3a"/><circle cx="342.4" cy="210.6" r="1.02" fill="#3a3a3a"/><circle cx="375.9" cy="149.7" r="0.85" fill="#3a3a3a"/></g><rect x="302" y="144" width="79.0" height="79.0" fill="#000" filter="url(#tnoise)" opacity="0.35"/></g>
<rect x="302.5" y="144.5" width="78.0" height="78.0" fill="none" stroke="#222" stroke-width="1"/>
<g clip-path="url(#cpc6)"><rect x="383" y="144" width="79.0" height="79.0" fill="#f2f2f2"/><g filter="url(#blur4)"><ellipse cx="421" cy="181" rx="29" ry="28" fill="#dcdcdc"/></g><g filter="url(#blur2)"><path d="M386,186 C388,176 392,168 397,162 C403,155 412,151 422,150 C432,149 443,150 449,157 C455,165 456,176 454,186 C451,197 444,205 433,209 C422,212 410,210 401,205 C395,202 389,200 386,196 Z" fill="#929292"/><ellipse cx="424" cy="182" rx="21" ry="20" fill="#727272"/><ellipse cx="449" cy="158" rx="6" ry="5" fill="#b8b8b8"/></g><rect x="383" y="144" width="79" height="79" filter="url(#blobtex)" opacity="0.5" clip-path="url(#blobclip)"/><g filter="url(#blur07)"><circle cx="422.5" cy="171.2" r="0.93" fill="#4a4a4a"/><circle cx="445.9" cy="182.4" r="1.26" fill="#4a4a4a"/><circle cx="424.3" cy="177.6" r="0.85" fill="#4a4a4a"/><circle cx="401.8" cy="175.8" r="0.68" fill="#4a4a4a"/><circle cx="424.6" cy="166.3" r="0.96" fill="#4a4a4a"/><circle cx="435.4" cy="193.6" r="0.69" fill="#4a4a4a"/><circle cx="437.4" cy="189.7" r="0.81" fill="#4a4a4a"/><circle cx="423.3" cy="167.4" r="0.89" fill="#4a4a4a"/><circle cx="432.9" cy="184.0" r="0.92" fill="#4a4a4a"/><circle cx="403.9" cy="173.8" r="1.20" fill="#4a4a4a"/><circle cx="440.7" cy="194.4" r="0.71" fill="#4a4a4a"/><circle cx="440.2" cy="176.6" r="0.88" fill="#4a4a4a"/><circle cx="401.9" cy="164.6" r="1.27" fill="#4a4a4a"/><circle cx="418.6" cy="181.4" r="0.71" fill="#4a4a4a"/><circle cx="430.6" cy="160.0" r="1.10" fill="#4a4a4a"/><circle cx="431.9" cy="195.6" r="0.62" fill="#4a4a4a"/><circle cx="432.4" cy="189.0" r="1.28" fill="#4a4a4a"/><circle cx="405.5" cy="161.5" r="0.63" fill="#4a4a4a"/><circle cx="414.5" cy="183.6" r="0.78" fill="#4a4a4a"/><circle cx="440.8" cy="195.9" r="0.83" fill="#4a4a4a"/><circle cx="399.2" cy="181.4" r="1.22" fill="#4a4a4a"/><circle cx="440.2" cy="173.6" r="0.95" fill="#4a4a4a"/><circle cx="435.0" cy="170.8" r="0.81" fill="#4a4a4a"/><circle cx="420.1" cy="167.0" r="0.86" fill="#4a4a4a"/><circle cx="404.2" cy="187.6" r="0.85" fill="#4a4a4a"/><circle cx="404.6" cy="187.3" r="0.63" fill="#4a4a4a"/><circle cx="424.4" cy="174.5" r="0.97" fill="#4a4a4a"/><circle cx="404.7" cy="175.2" r="0.76" fill="#4a4a4a"/><circle cx="434.4" cy="189.1" r="0.82" fill="#4a4a4a"/><circle cx="408.1" cy="181.2" r="1.12" fill="#4a4a4a"/><circle cx="418.5" cy="180.2" r="0.88" fill="#4a4a4a"/><circle cx="423.2" cy="179.5" r="1.02" fill="#4a4a4a"/><circle cx="436.8" cy="176.2" r="1.02" fill="#4a4a4a"/><circle cx="410.9" cy="190.3" r="1.03" fill="#4a4a4a"/><circle cx="408.2" cy="172.3" r="0.95" fill="#4a4a4a"/><circle cx="397.7" cy="177.7" r="0.64" fill="#4a4a4a"/><circle cx="432.3" cy="187.1" r="0.79" fill="#4a4a4a"/><circle cx="426.0" cy="164.0" r="1.20" fill="#4a4a4a"/><circle cx="409.2" cy="187.9" r="1.08" fill="#4a4a4a"/><circle cx="444.0" cy="193.0" r="1.18" fill="#4a4a4a"/><circle cx="413.8" cy="192.7" r="1.17" fill="#4a4a4a"/><circle cx="426.2" cy="160.0" r="0.64" fill="#4a4a4a"/><circle cx="421.5" cy="174.4" r="1.04" fill="#4a4a4a"/><circle cx="396.4" cy="172.1" r="1.05" fill="#4a4a4a"/><circle cx="446.8" cy="183.5" r="1.13" fill="#4a4a4a"/><circle cx="419.2" cy="179.1" r="1.12" fill="#4a4a4a"/><circle cx="401.6" cy="190.4" r="1.29" fill="#4a4a4a"/><circle cx="427.4" cy="176.5" r="1.15" fill="#4a4a4a"/><circle cx="399.2" cy="188.1" r="0.86" fill="#4a4a4a"/><circle cx="404.1" cy="185.5" r="0.68" fill="#4a4a4a"/><circle cx="411.2" cy="199.9" r="0.65" fill="#4a4a4a"/><circle cx="439.4" cy="195.6" r="1.07" fill="#4a4a4a"/><circle cx="412.3" cy="177.4" r="0.68" fill="#4a4a4a"/><circle cx="411.3" cy="203.3" r="0.99" fill="#4a4a4a"/><circle cx="432.0" cy="174.5" r="0.89" fill="#4a4a4a"/><circle cx="396.9" cy="174.7" r="0.69" fill="#4a4a4a"/><circle cx="434.0" cy="167.4" r="0.62" fill="#4a4a4a"/><circle cx="405.9" cy="186.5" r="1.07" fill="#4a4a4a"/><circle cx="438.1" cy="172.1" r="1.08" fill="#4a4a4a"/><circle cx="402.8" cy="194.6" r="0.67" fill="#4a4a4a"/><circle cx="420.5" cy="169.5" r="1.01" fill="#4a4a4a"/><circle cx="425.7" cy="194.4" r="0.71" fill="#4a4a4a"/><circle cx="408.8" cy="196.0" r="0.96" fill="#4a4a4a"/><circle cx="405.4" cy="192.5" r="1.19" fill="#4a4a4a"/><circle cx="408.0" cy="195.2" r="0.94" fill="#4a4a4a"/><circle cx="436.3" cy="178.2" r="1.09" fill="#4a4a4a"/><circle cx="422.4" cy="193.0" r="1.11" fill="#4a4a4a"/><circle cx="408.8" cy="174.1" r="0.64" fill="#4a4a4a"/><circle cx="428.5" cy="165.9" r="1.10" fill="#4a4a4a"/><circle cx="401.6" cy="188.3" r="0.99" fill="#4a4a4a"/><circle cx="446.5" cy="176.3" r="0.92" fill="#4a4a4a"/><circle cx="408.1" cy="181.0" r="1.13" fill="#4a4a4a"/><circle cx="433.0" cy="188.5" r="1.19" fill="#4a4a4a"/><circle cx="443.0" cy="184.7" r="1.00" fill="#4a4a4a"/><circle cx="406.2" cy="175.3" r="0.71" fill="#4a4a4a"/><circle cx="443.5" cy="173.2" r="1.16" fill="#4a4a4a"/><circle cx="440.5" cy="193.1" r="0.75" fill="#4a4a4a"/><circle cx="427.2" cy="197.8" r="1.03" fill="#4a4a4a"/><circle cx="438.1" cy="195.4" r="1.01" fill="#4a4a4a"/><circle cx="441.9" cy="165.4" r="1.08" fill="#4a4a4a"/><circle cx="431" cy="162.6" r="1.5" fill="#333"/><circle cx="436" cy="174.7" r="1.5" fill="#333"/><circle cx="445.2" cy="159.8" r="1.5" fill="#333"/><circle cx="422.8" cy="160.6" r="1.5" fill="#333"/><circle cx="400.4" cy="173.9" r="1.5" fill="#333"/><circle cx="406.2" cy="162.2" r="1.5" fill="#333"/><circle cx="417.8" cy="180.8" r="1.8" fill="#111"/><circle cx="431.1" cy="181.8" r="2.7" fill="#111"/><circle cx="419.2" cy="186.8" r="2" fill="#111"/></g><rect x="383" y="144" width="79.0" height="79.0" fill="#000" filter="url(#tnoise)" opacity="0.35"/></g>
<rect x="383.5" y="144.5" width="78.0" height="78.0" fill="none" stroke="#222" stroke-width="1"/>
<text x="266.5" y="113.6" font-size="8.8" font-weight="bold" fill="#111" textLength="30.0" lengthAdjust="spacingAndGlyphs">200 nm</text>
<rect x="267.6" y="115.6" width="25.9" height="2.4" fill="#111"/>
<text x="347.8" y="113.6" font-size="8.8" font-weight="bold" fill="#111" textLength="29.4" lengthAdjust="spacingAndGlyphs">200 nm</text>
<rect x="349.4" y="115.6" width="25.5" height="2.4" fill="#111"/>
<text x="428.7" y="113.6" font-size="8.8" font-weight="bold" fill="#111" textLength="29.6" lengthAdjust="spacingAndGlyphs">200 nm</text>
<rect x="430.6" y="115.6" width="25.4" height="2.4" fill="#111"/>
<text x="271.1" y="213.0" font-size="8.8" font-weight="bold" fill="#111" textLength="24.8" lengthAdjust="spacingAndGlyphs">30 nm</text>
<rect x="277.4" y="215.6" width="14.2" height="2.4" fill="#111"/>
<text x="351.9" y="213.0" font-size="8.8" font-weight="bold" fill="#111" textLength="25.1" lengthAdjust="spacingAndGlyphs">30 nm</text>
<rect x="358.5" y="215.6" width="13.2" height="2.4" fill="#111"/>
<text x="434.3" y="213.0" font-size="8.8" font-weight="bold" fill="#111" textLength="25.4" lengthAdjust="spacingAndGlyphs">30 nm</text>
<rect x="441.3" y="215.6" width="13.3" height="2.4" fill="#111"/>
<text x="207.6" y="262.4" font-size="25" font-weight="bold" textLength="13.3" lengthAdjust="spacingAndGlyphs">E</text>
<text x="321.6" y="258.5" font-size="12.7" font-weight="bold" fill="#111" textLength="132.1" lengthAdjust="spacingAndGlyphs">Fe concentration (µM)</text>
<text x="293.3" y="279.2" font-size="12.8" font-weight="bold" fill="#111" textLength="26.0" lengthAdjust="spacingAndGlyphs">28.4</text>
<text x="327.3" y="279.2" font-size="12.8" font-weight="bold" fill="#111" textLength="25.8" lengthAdjust="spacingAndGlyphs">14.2</text>
<text x="360.7" y="279.2" font-size="12.8" font-weight="bold" fill="#111" textLength="19.3" lengthAdjust="spacingAndGlyphs">7.1</text>
<text x="392.2" y="279.2" font-size="12.8" font-weight="bold" fill="#111" textLength="19.0" lengthAdjust="spacingAndGlyphs">3.6</text>
<text x="423.6" y="279.2" font-size="12.8" font-weight="bold" fill="#111" textLength="18.6" lengthAdjust="spacingAndGlyphs">1.8</text>
<text x="455.1" y="279.2" font-size="12.8" font-weight="bold" fill="#111" textLength="19.1" lengthAdjust="spacingAndGlyphs">0.9</text>
<text x="490.9" y="279.2" font-size="12.8" font-weight="bold" fill="#111" textLength="8.0" lengthAdjust="spacingAndGlyphs">0</text>
<rect x="291.5" y="282.3" width="220.6" height="93.1" fill="#000"/>
<rect x="291.5" y="375.4" width="220.6" height="2.2" fill="#d0d0d0"/>
<rect x="291.5" y="377.6" width="220.6" height="93.9" fill="#070707"/>
<rect x="291.5" y="377.6" width="220.6" height="93.9" fill="none" stroke="#3a3a3a" stroke-width="0.7"/>
<circle cx="309" cy="299" r="11.5" fill="#fff"/>
<circle cx="340.3" cy="299" r="11.4" fill="#f6f6f6"/>
<circle cx="340.9" cy="306.4" r="0.45" fill="#999"/>
<circle cx="335.0" cy="304.7" r="0.45" fill="#999"/>
<circle cx="338.5" cy="297.2" r="0.45" fill="#999"/>
<circle cx="349.4" cy="299.8" r="0.45" fill="#999"/>
<circle cx="340.0" cy="303.8" r="0.45" fill="#999"/>
<circle cx="347.2" cy="298.8" r="0.45" fill="#999"/>
<circle cx="343.9" cy="293.1" r="0.45" fill="#999"/>
<circle cx="337.8" cy="296.0" r="0.45" fill="#999"/>
<circle cx="334.1" cy="292.0" r="0.45" fill="#999"/>
<circle cx="331.8" cy="297.8" r="0.45" fill="#999"/>
<circle cx="339.1" cy="296.8" r="0.45" fill="#999"/>
<circle cx="340.7" cy="291.3" r="0.45" fill="#999"/>
<circle cx="339.7" cy="300.7" r="0.45" fill="#999"/>
<circle cx="344.8" cy="293.8" r="0.45" fill="#999"/>
<g filter="url(#mrimod)"><circle cx="371.2" cy="299" r="11.1" fill="#bababa" stroke="#bababa" stroke-width="0.6"/><circle cx="402.7" cy="299" r="11.1" fill="#8e8e8e" stroke="#8e8e8e" stroke-width="0.6"/><circle cx="434.2" cy="299" r="11.1" fill="#545454" stroke="#545454" stroke-width="0.6"/><circle cx="465.5" cy="299" r="11.1" fill="#313131" stroke="#313131" stroke-width="0.6"/><circle cx="496" cy="299" r="11.1" fill="#171717" stroke="#171717" stroke-width="0.6"/><circle cx="309" cy="330" r="11.1" fill="#464646" stroke="#464646" stroke-width="0.6"/><circle cx="340.3" cy="330" r="11.1" fill="#464646" stroke="#464646" stroke-width="0.6"/><circle cx="371.2" cy="330" r="11.1" fill="#444444" stroke="#444444" stroke-width="0.6"/><circle cx="402.7" cy="330" r="11.1" fill="#444444" stroke="#444444" stroke-width="0.6"/><circle cx="434.2" cy="330" r="11.1" fill="#4d4d4d" stroke="#4d4d4d" stroke-width="0.6"/><circle cx="465.5" cy="330" r="11.1" fill="#212121" stroke="#212121" stroke-width="0.6"/><circle cx="496" cy="330" r="11.1" fill="#171717" stroke="#171717" stroke-width="0.6"/><circle cx="309" cy="361.5" r="11.1" fill="#383838" stroke="#383838" stroke-width="0.6"/><circle cx="340.3" cy="361.5" r="11.1" fill="#383838" stroke="#383838" stroke-width="0.6"/><circle cx="371.2" cy="361.5" r="11.1" fill="#343434" stroke="#343434" stroke-width="0.6"/><circle cx="402.7" cy="361.5" r="11.1" fill="#343434" stroke="#343434" stroke-width="0.6"/><circle cx="434.2" cy="361.5" r="11.1" fill="#353535" stroke="#353535" stroke-width="0.6"/><circle cx="465.5" cy="361.5" r="11.1" fill="#232323" stroke="#232323" stroke-width="0.6"/><circle cx="496" cy="361.5" r="11.1" fill="#151515" stroke="#151515" stroke-width="0.6"/></g>
<g fill="none" stroke-width="0.8" opacity="0.7"><circle cx="402.7" cy="299" r="10.9" stroke="#929292"/><circle cx="434.2" cy="299" r="10.9" stroke="#5b5b5b"/><circle cx="465.5" cy="299" r="10.9" stroke="#3a3a3a"/><circle cx="496" cy="299" r="10.9" stroke="#212121"/><circle cx="309" cy="330" r="10.9" stroke="#4e4e4e"/><circle cx="340.3" cy="330" r="10.9" stroke="#4e4e4e"/><circle cx="371.2" cy="330" r="10.9" stroke="#4c4c4c"/><circle cx="402.7" cy="330" r="10.9" stroke="#4c4c4c"/><circle cx="434.2" cy="330" r="10.9" stroke="#555555"/><circle cx="465.5" cy="330" r="10.9" stroke="#2b2b2b"/><circle cx="496" cy="330" r="10.9" stroke="#212121"/><circle cx="309" cy="361.5" r="10.9" stroke="#414141"/><circle cx="340.3" cy="361.5" r="10.9" stroke="#414141"/><circle cx="371.2" cy="361.5" r="10.9" stroke="#3d3d3d"/><circle cx="402.7" cy="361.5" r="10.9" stroke="#3d3d3d"/><circle cx="434.2" cy="361.5" r="10.9" stroke="#3e3e3e"/><circle cx="465.5" cy="361.5" r="10.9" stroke="#2d2d2d"/><circle cx="496" cy="361.5" r="10.9" stroke="#1f1f1f"/></g>
<g filter="url(#blur05)"><circle cx="309" cy="393.3" r="11.1" fill="#5e5e5e"/><circle cx="340.3" cy="393.3" r="11.1" fill="#b4b4b4"/><circle cx="371.2" cy="393.3" r="11.1" fill="#dedede"/><circle cx="402.7" cy="393.3" r="11.1" fill="#efefef"/><circle cx="434.2" cy="393.3" r="11.1" fill="#e8e8e8"/><circle cx="465.5" cy="393.3" r="11.1" fill="#ededed"/><circle cx="496" cy="393.3" r="11.1" fill="#eeeeee"/><circle cx="309" cy="425" r="11.1" fill="#0c0c0c"/><circle cx="340.3" cy="425" r="11.1" fill="#0e0e0e"/><circle cx="371.2" cy="425" r="11.1" fill="#3a3a3a"/><circle cx="402.7" cy="425" r="11.1" fill="#8c8c8c"/><circle cx="434.2" cy="425" r="11.1" fill="#d0d0d0"/><circle cx="465.5" cy="425" r="11.1" fill="#e8e8e8"/><circle cx="496" cy="425" r="11.1" fill="#ececec"/><circle cx="309" cy="456" r="11.1" fill="#090909"/><circle cx="340.3" cy="456" r="11.1" fill="#090909"/><circle cx="371.2" cy="456" r="11.1" fill="#0a0a0a"/><circle cx="402.7" cy="456" r="11.1" fill="#121212"/><circle cx="434.2" cy="456" r="11.1" fill="#6a6a6a"/><circle cx="465.5" cy="456" r="11.1" fill="#a6a6a6"/><circle cx="496" cy="456" r="11.1" fill="#ececec"/></g>
<ellipse cx="402.7" cy="394.8" rx="10" ry="3.5" fill="#bdbdbd" opacity="0.5" filter="url(#blur15)"/>
<ellipse cx="434.2" cy="394.8" rx="10" ry="3.5" fill="#bdbdbd" opacity="0.5" filter="url(#blur15)"/>
<ellipse cx="496" cy="426.5" rx="10" ry="3.5" fill="#bdbdbd" opacity="0.5" filter="url(#blur15)"/>
<ellipse cx="371.2" cy="394.8" rx="10" ry="3.5" fill="#bdbdbd" opacity="0.5" filter="url(#blur15)"/>
<text x="257.3" y="302.1" font-size="11.5" font-weight="bold" fill="#111" textLength="29.5" lengthAdjust="spacingAndGlyphs"><tspan fill="#4472C4">M</tspan>NP</text>
<text x="242.2" y="333.5" font-size="11.5" font-weight="bold" fill="#111" textLength="45.4" lengthAdjust="spacingAndGlyphs"><tspan fill="#ED7D31">F</tspan><tspan fill="#4472C4">M</tspan> NPs</text>
<text x="233.7" y="367.2" font-size="11.5" font-weight="bold" fill="#111" textLength="53.4" lengthAdjust="spacingAndGlyphs"><tspan fill="#ED7D31">F</tspan><tspan fill="#4472C4">M</tspan><tspan fill="#70AD47">G</tspan> NPs</text>
<text x="255.7" y="403.0" font-size="11.5" font-weight="bold" fill="#111" textLength="29.4" lengthAdjust="spacingAndGlyphs">MNP</text>
<text x="240.6" y="434.4" font-size="11.5" font-weight="bold" fill="#111" textLength="44.5" lengthAdjust="spacingAndGlyphs"><tspan fill="#ED7D31">F</tspan><tspan fill="#4472C4">M</tspan> NPs</text>
<text x="232.0" y="465.2" font-size="11.5" font-weight="bold" fill="#111" textLength="53.1" lengthAdjust="spacingAndGlyphs"><tspan fill="#ED7D31">F</tspan><tspan fill="#4472C4">M</tspan><tspan fill="#70AD47">G</tspan> NPs</text>
<line x1="229.1" y1="289.4" x2="229.1" y2="366" stroke="#000" stroke-width="1.6"/>
<line x1="226.6" y1="390.3" x2="226.6" y2="466.2" stroke="#000" stroke-width="1.6"/>
<text transform="translate(223.3,326.7) rotate(-90)" text-anchor="middle" font-family="Liberation Serif" font-weight="bold" font-size="13.5" fill="#111" textLength="76.6" lengthAdjust="spacingAndGlyphs">T1-weighted</text>
<text transform="translate(218.8,426.2) rotate(-90)" text-anchor="middle" font-family="Liberation Serif" font-weight="bold" font-size="13.5" fill="#111" textLength="75" lengthAdjust="spacingAndGlyphs">T2-weighted</text>
<text x="468.9" y="18.9" font-size="23" font-weight="bold" textLength="17.6" lengthAdjust="spacingAndGlyphs">H</text>
<circle cx="504.7" cy="27" r="2.9" fill="#7d5c00"/>
<circle cx="530.2" cy="39.3" r="2.9" fill="#7d5c00"/>
<circle cx="482.4" cy="46.3" r="2.9" fill="#7d5c00"/>
<circle cx="506.2" cy="54.8" r="2.9" fill="#7d5c00"/>
<circle cx="486.7" cy="75.6" r="2.9" fill="#7d5c00"/>
<circle cx="529.6" cy="70.3" r="2.9" fill="#7d5c00"/>
<text x="542.7" y="26.2" font-size="11.7" fill="#222" textLength="95.7" lengthAdjust="spacingAndGlyphs">Neighbor Distance</text>
<text x="569.4" y="41.5" font-size="11.7" fill="#222" textLength="42.2" lengthAdjust="spacingAndGlyphs">reduced</text>
<line x1="547.7" y1="49.9" x2="630" y2="49.9" stroke="#000" stroke-width="2.4"/>
<path d="M624.5,45.2 L633.3,49.9 L624.5,54.6" fill="none" stroke="#000" stroke-width="2.2" stroke-linejoin="miter"/>
<text x="547.7" y="69.6" font-size="11.3" fill="#222" textLength="77.1" lengthAdjust="spacingAndGlyphs">Closely-packed</text>
<circle cx="662.8" cy="50.3" r="19.3" fill="#f4f7fa"/>
<g fill="none" stroke="#3d6f9f" stroke-width="0.55"><ellipse cx="652.1" cy="39.9" rx="3.7" ry="3.4" transform="rotate(133 652.1 39.9)"/><ellipse cx="665.4" cy="48.9" rx="2.9" ry="3.4" transform="rotate(117 665.4 48.9)"/><ellipse cx="667.5" cy="46.9" rx="2.9" ry="2.0" transform="rotate(98 667.5 46.9)"/><ellipse cx="661.0" cy="49.4" rx="2.3" ry="2.1" transform="rotate(165 661.0 49.4)"/><ellipse cx="663.5" cy="43.4" rx="3.7" ry="1.8" transform="rotate(111 663.5 43.4)"/><ellipse cx="663.3" cy="50.8" rx="3.9" ry="1.9" transform="rotate(39 663.3 50.8)"/><ellipse cx="678.9" cy="48.5" rx="2.5" ry="3.4" transform="rotate(97 678.9 48.5)"/><ellipse cx="659.4" cy="43.3" rx="4.1" ry="2.9" transform="rotate(174 659.4 43.3)"/><ellipse cx="670.2" cy="44.4" rx="2.7" ry="1.8" transform="rotate(26 670.2 44.4)"/><ellipse cx="671.5" cy="54.1" rx="3.2" ry="1.5" transform="rotate(122 671.5 54.1)"/><ellipse cx="657.7" cy="58.5" rx="3.8" ry="2.5" transform="rotate(57 657.7 58.5)"/><ellipse cx="648.4" cy="52.0" rx="1.9" ry="3.5" transform="rotate(4 648.4 52.0)"/><ellipse cx="662.8" cy="34.4" rx="1.8" ry="3.1" transform="rotate(66 662.8 34.4)"/><ellipse cx="661.3" cy="49.5" rx="1.9" ry="1.9" transform="rotate(172 661.3 49.5)"/><ellipse cx="667.8" cy="64.5" rx="4.0" ry="3.4" transform="rotate(62 667.8 64.5)"/><ellipse cx="655.1" cy="60.2" rx="3.7" ry="1.7" transform="rotate(135 655.1 60.2)"/><ellipse cx="667.5" cy="35.0" rx="1.9" ry="3.4" transform="rotate(16 667.5 35.0)"/><ellipse cx="655.5" cy="61.7" rx="4.0" ry="2.2" transform="rotate(166 655.5 61.7)"/><ellipse cx="653.5" cy="47.6" rx="2.6" ry="1.9" transform="rotate(14 653.5 47.6)"/><ellipse cx="671.3" cy="61.9" rx="4.2" ry="1.8" transform="rotate(9 671.3 61.9)"/><ellipse cx="675.4" cy="49.2" rx="2.8" ry="2.0" transform="rotate(107 675.4 49.2)"/><ellipse cx="668.2" cy="39.9" rx="2.8" ry="1.6" transform="rotate(165 668.2 39.9)"/><ellipse cx="674.7" cy="52.8" rx="3.8" ry="1.8" transform="rotate(132 674.7 52.8)"/><ellipse cx="675.9" cy="46.0" rx="3.7" ry="1.7" transform="rotate(78 675.9 46.0)"/><ellipse cx="672.2" cy="63.1" rx="2.5" ry="2.4" transform="rotate(180 672.2 63.1)"/><ellipse cx="673.0" cy="36.6" rx="2.9" ry="2.5" transform="rotate(131 673.0 36.6)"/><ellipse cx="653.5" cy="51.5" rx="2.8" ry="1.8" transform="rotate(68 653.5 51.5)"/><ellipse cx="679.7" cy="49.1" rx="3.3" ry="2.5" transform="rotate(61 679.7 49.1)"/><ellipse cx="670.4" cy="55.1" rx="3.7" ry="3.2" transform="rotate(65 670.4 55.1)"/><ellipse cx="666.2" cy="35.5" rx="3.5" ry="2.8" transform="rotate(137 666.2 35.5)"/><ellipse cx="653.3" cy="61.3" rx="2.5" ry="2.5" transform="rotate(139 653.3 61.3)"/><ellipse cx="659.4" cy="41.6" rx="4.1" ry="2.8" transform="rotate(105 659.4 41.6)"/><ellipse cx="675.6" cy="51.2" rx="2.4" ry="2.8" transform="rotate(83 675.6 51.2)"/><ellipse cx="668.5" cy="37.6" rx="3.7" ry="2.2" transform="rotate(116 668.5 37.6)"/><ellipse cx="661.6" cy="34.6" rx="2.6" ry="3.2" transform="rotate(157 661.6 34.6)"/><ellipse cx="656.3" cy="34.5" rx="4.1" ry="2.5" transform="rotate(95 656.3 34.5)"/><ellipse cx="670.8" cy="64.0" rx="4.0" ry="2.5" transform="rotate(124 670.8 64.0)"/><ellipse cx="660.0" cy="35.8" rx="2.2" ry="3.1" transform="rotate(105 660.0 35.8)"/><ellipse cx="657.1" cy="40.6" rx="3.3" ry="3.0" transform="rotate(115 657.1 40.6)"/><ellipse cx="662.3" cy="47.5" rx="2.2" ry="2.4" transform="rotate(117 662.3 47.5)"/><ellipse cx="665.6" cy="64.4" rx="3.3" ry="1.6" transform="rotate(85 665.6 64.4)"/><ellipse cx="663.4" cy="54.3" rx="2.1" ry="2.1" transform="rotate(33 663.4 54.3)"/><ellipse cx="663.9" cy="53.4" rx="2.9" ry="2.3" transform="rotate(110 663.9 53.4)"/><ellipse cx="655.7" cy="45.8" rx="4.0" ry="1.5" transform="rotate(73 655.7 45.8)"/><ellipse cx="660.8" cy="61.2" rx="2.1" ry="3.2" transform="rotate(67 660.8 61.2)"/><ellipse cx="676.0" cy="53.3" rx="2.0" ry="2.6" transform="rotate(61 676.0 53.3)"/><ellipse cx="648.0" cy="42.1" rx="3.8" ry="2.3" transform="rotate(146 648.0 42.1)"/><ellipse cx="656.2" cy="42.1" rx="2.1" ry="2.7" transform="rotate(101 656.2 42.1)"/><ellipse cx="679.2" cy="45.8" rx="3.3" ry="2.2" transform="rotate(161 679.2 45.8)"/><ellipse cx="668.5" cy="50.3" rx="3.2" ry="2.7" transform="rotate(25 668.5 50.3)"/><ellipse cx="651.6" cy="38.4" rx="2.7" ry="2.4" transform="rotate(41 651.6 38.4)"/><ellipse cx="658.4" cy="66.8" rx="2.7" ry="3.4" transform="rotate(164 658.4 66.8)"/><ellipse cx="655.5" cy="45.3" rx="4.2" ry="2.5" transform="rotate(75 655.5 45.3)"/><ellipse cx="655.6" cy="65.9" rx="3.0" ry="2.1" transform="rotate(86 655.6 65.9)"/><ellipse cx="672.6" cy="59.8" rx="2.9" ry="2.1" transform="rotate(141 672.6 59.8)"/><ellipse cx="663.7" cy="48.5" rx="3.1" ry="2.0" transform="rotate(168 663.7 48.5)"/><ellipse cx="664.5" cy="41.9" rx="2.4" ry="1.8" transform="rotate(178 664.5 41.9)"/><ellipse cx="659.2" cy="63.3" rx="2.9" ry="2.8" transform="rotate(109 659.2 63.3)"/><ellipse cx="662.6" cy="44.4" rx="3.6" ry="2.1" transform="rotate(96 662.6 44.4)"/><ellipse cx="657.9" cy="58.4" rx="3.1" ry="2.4" transform="rotate(65 657.9 58.4)"/><ellipse cx="662.4" cy="37.0" rx="1.9" ry="2.0" transform="rotate(82 662.4 37.0)"/><ellipse cx="676.9" cy="42.1" rx="3.1" ry="1.5" transform="rotate(140 676.9 42.1)"/><ellipse cx="651.0" cy="56.1" rx="3.5" ry="2.8" transform="rotate(87 651.0 56.1)"/><ellipse cx="671.9" cy="44.6" rx="2.7" ry="3.2" transform="rotate(35 671.9 44.6)"/><ellipse cx="658.3" cy="65.4" rx="2.0" ry="3.2" transform="rotate(125 658.3 65.4)"/><ellipse cx="654.4" cy="54.1" rx="3.7" ry="3.3" transform="rotate(26 654.4 54.1)"/><ellipse cx="650.1" cy="52.0" rx="3.0" ry="2.2" transform="rotate(28 650.1 52.0)"/><ellipse cx="649.4" cy="42.3" rx="2.0" ry="2.0" transform="rotate(148 649.4 42.3)"/><ellipse cx="666.5" cy="36.7" rx="1.9" ry="2.9" transform="rotate(176 666.5 36.7)"/><ellipse cx="677.3" cy="50.1" rx="1.9" ry="3.2" transform="rotate(39 677.3 50.1)"/><ellipse cx="652.5" cy="36.9" rx="3.5" ry="1.8" transform="rotate(53 652.5 36.9)"/><ellipse cx="668.6" cy="47.0" rx="3.3" ry="2.3" transform="rotate(29 668.6 47.0)"/><ellipse cx="660.2" cy="47.8" rx="2.1" ry="2.3" transform="rotate(13 660.2 47.8)"/><ellipse cx="675.1" cy="54.9" rx="3.6" ry="3.3" transform="rotate(24 675.1 54.9)"/><ellipse cx="654.0" cy="54.3" rx="3.2" ry="2.5" transform="rotate(169 654.0 54.3)"/><ellipse cx="659.9" cy="53.2" rx="3.5" ry="1.8" transform="rotate(114 659.9 53.2)"/><ellipse cx="646.3" cy="49.7" rx="3.1" ry="2.7" transform="rotate(47 646.3 49.7)"/><ellipse cx="654.5" cy="47.5" rx="3.6" ry="2.5" transform="rotate(24 654.5 47.5)"/><ellipse cx="663.8" cy="60.8" rx="3.6" ry="1.9" transform="rotate(128 663.8 60.8)"/><ellipse cx="660.0" cy="46.1" rx="3.4" ry="1.7" transform="rotate(22 660.0 46.1)"/><ellipse cx="655.8" cy="45.6" rx="3.9" ry="2.5" transform="rotate(58 655.8 45.6)"/><ellipse cx="663.7" cy="47.5" rx="3.5" ry="1.6" transform="rotate(27 663.7 47.5)"/><ellipse cx="676.4" cy="46.1" rx="2.3" ry="1.7" transform="rotate(175 676.4 46.1)"/><ellipse cx="654.8" cy="36.8" rx="2.1" ry="2.7" transform="rotate(64 654.8 36.8)"/><ellipse cx="663.7" cy="60.2" rx="3.3" ry="2.2" transform="rotate(69 663.7 60.2)"/><ellipse cx="673.1" cy="62.2" rx="3.4" ry="3.1" transform="rotate(78 673.1 62.2)"/><ellipse cx="670.2" cy="40.3" rx="3.2" ry="2.6" transform="rotate(133 670.2 40.3)"/><ellipse cx="658.5" cy="53.6" rx="1.9" ry="1.9" transform="rotate(7 658.5 53.6)"/><ellipse cx="672.0" cy="42.6" rx="3.6" ry="1.5" transform="rotate(85 672.0 42.6)"/><ellipse cx="673.3" cy="41.6" rx="2.8" ry="2.4" transform="rotate(18 673.3 41.6)"/><ellipse cx="666.7" cy="56.0" rx="2.7" ry="2.3" transform="rotate(158 666.7 56.0)"/><ellipse cx="667.8" cy="57.4" rx="2.5" ry="1.8" transform="rotate(52 667.8 57.4)"/><ellipse cx="663.9" cy="62.3" rx="1.9" ry="3.3" transform="rotate(66 663.9 62.3)"/><ellipse cx="676.1" cy="44.8" rx="3.4" ry="2.4" transform="rotate(170 676.1 44.8)"/><ellipse cx="673.2" cy="59.8" rx="2.5" ry="2.8" transform="rotate(131 673.2 59.8)"/><ellipse cx="666.8" cy="56.9" rx="1.9" ry="2.0" transform="rotate(14 666.8 56.9)"/><ellipse cx="648.9" cy="60.2" rx="2.7" ry="2.1" transform="rotate(84 648.9 60.2)"/><ellipse cx="659.7" cy="64.8" rx="3.5" ry="1.8" transform="rotate(43 659.7 64.8)"/><ellipse cx="654.9" cy="35.5" rx="3.4" ry="2.4" transform="rotate(176 654.9 35.5)"/><ellipse cx="667.1" cy="50.5" rx="3.7" ry="2.3" transform="rotate(8 667.1 50.5)"/><ellipse cx="646.4" cy="45.1" rx="3.0" ry="2.2" transform="rotate(17 646.4 45.1)"/><ellipse cx="677.6" cy="57.4" rx="3.0" ry="3.4" transform="rotate(10 677.6 57.4)"/><ellipse cx="663.0" cy="54.2" rx="2.8" ry="1.6" transform="rotate(46 663.0 54.2)"/><ellipse cx="654.8" cy="55.6" rx="1.9" ry="1.6" transform="rotate(175 654.8 55.6)"/><ellipse cx="668.1" cy="61.4" rx="2.8" ry="2.6" transform="rotate(15 668.1 61.4)"/><ellipse cx="660.6" cy="55.5" rx="3.1" ry="3.3" transform="rotate(108 660.6 55.5)"/><ellipse cx="667.8" cy="44.0" rx="1.8" ry="2.6" transform="rotate(88 667.8 44.0)"/><ellipse cx="653.2" cy="45.7" rx="3.3" ry="3.0" transform="rotate(164 653.2 45.7)"/><ellipse cx="658.7" cy="61.1" rx="3.8" ry="1.9" transform="rotate(21 658.7 61.1)"/><ellipse cx="660.9" cy="55.0" rx="3.7" ry="3.1" transform="rotate(56 660.9 55.0)"/><ellipse cx="666.2" cy="53.9" rx="2.4" ry="1.7" transform="rotate(77 666.2 53.9)"/><ellipse cx="655.2" cy="46.3" rx="1.9" ry="2.9" transform="rotate(9 655.2 46.3)"/><ellipse cx="665.7" cy="59.1" rx="2.7" ry="1.7" transform="rotate(76 665.7 59.1)"/><ellipse cx="656.9" cy="64.1" rx="3.1" ry="3.3" transform="rotate(118 656.9 64.1)"/><ellipse cx="663.6" cy="37.2" rx="2.9" ry="3.1" transform="rotate(118 663.6 37.2)"/></g>
<circle cx="675.3" cy="46.6" r="1.2" fill="#1fa05a" opacity="0.9"/>
<circle cx="666.4" cy="41.5" r="1.3" fill="#d9a800" opacity="0.9"/>
<circle cx="660.8" cy="55.6" r="1.6" fill="#1fa05a" opacity="0.9"/>
<circle cx="661.9" cy="54.1" r="1.0" fill="#2bb070" opacity="0.9"/>
<circle cx="673.7" cy="60.7" r="1.4" fill="#f0c800" opacity="0.9"/>
<circle cx="662.0" cy="65.2" r="1.2" fill="#e6b800" opacity="0.9"/>
<circle cx="654.5" cy="54.3" r="1.3" fill="#f0c800" opacity="0.9"/>
<circle cx="669.0" cy="60.6" r="1.7" fill="#d9a800" opacity="0.9"/>
<circle cx="672.0" cy="56.6" r="1.6" fill="#d9a800" opacity="0.9"/>
<circle cx="671.1" cy="60.8" r="1.7" fill="#1fa05a" opacity="0.9"/>
<circle cx="669.1" cy="56.1" r="1.4" fill="#d9a800" opacity="0.9"/>
<circle cx="653.5" cy="54.4" r="1.5" fill="#d9a800" opacity="0.9"/>
<circle cx="674.4" cy="48.1" r="1.1" fill="#e6b800" opacity="0.9"/>
<circle cx="670.3" cy="40.1" r="1.9" fill="#d9a800" opacity="0.9"/>
<circle cx="674.2" cy="52.7" r="1.6" fill="#1fa05a" opacity="0.9"/>
<circle cx="656.4" cy="58.6" r="1.2" fill="#d9a800" opacity="0.9"/>
<circle cx="666.3" cy="61.2" r="1.7" fill="#f0c800" opacity="0.9"/>
<circle cx="664.8" cy="41.3" r="1.7" fill="#d9a800" opacity="0.9"/>
<circle cx="655.2" cy="37.8" r="1.6" fill="#e6b800" opacity="0.9"/>
<circle cx="658.1" cy="53.7" r="1.4" fill="#d9a800" opacity="0.9"/>
<circle cx="668.9" cy="51.8" r="1.7" fill="#e6b800" opacity="0.9"/>
<circle cx="659.9" cy="64.7" r="1.4" fill="#f0c800" opacity="0.9"/>
<circle cx="651.8" cy="52.4" r="1.7" fill="#e6b800" opacity="0.9"/>
<circle cx="661.7" cy="51.4" r="1.5" fill="#2bb070" opacity="0.9"/>
<circle cx="652.8" cy="40.8" r="1.3" fill="#e6b800" opacity="0.9"/>
<circle cx="671.2" cy="51.7" r="1.5" fill="#1fa05a" opacity="0.9"/>
<text x="523.0" y="104.6" font-size="9.8" font-weight="bold" fill="#111" textLength="52.5" lengthAdjust="spacingAndGlyphs">“on”/Bright</text>
<text x="628.5" y="104.6" font-size="9.8" font-weight="bold" fill="#111" textLength="47.4" lengthAdjust="spacingAndGlyphs">“off”/Dark</text>
<text x="527.5" y="166.9" font-size="9.8" font-weight="bold" fill="#111" textLength="45.5" lengthAdjust="spacingAndGlyphs">“on”/Gray</text>
<text x="624.2" y="166.9" font-size="9.8" font-weight="bold" fill="#111" textLength="59.8" lengthAdjust="spacingAndGlyphs">“boost”/Dark</text>
<circle cx="552.4" cy="127.8" r="17.9" fill="#fff" stroke="#c8c8c8" stroke-width="0.6"/>
<circle cx="655.5" cy="127" r="18" fill="#4a4a4a"/>
<circle cx="552.4" cy="190.9" r="18.1" fill="#c0c0c0"/>
<circle cx="654.9" cy="191.7" r="18" fill="#111"/>
<text x="472.0" y="125.8" font-size="10" fill="#333" textLength="54.0" lengthAdjust="spacingAndGlyphs">T1-weighted</text>
<text x="475.6" y="138.4" font-size="10" fill="#333" textLength="47.9" lengthAdjust="spacingAndGlyphs">MR Images</text>
<text x="473.8" y="190.4" font-size="10" fill="#333" textLength="53.7" lengthAdjust="spacingAndGlyphs">T2-weighted</text>
<text x="476.3" y="203.0" font-size="10" fill="#333" textLength="48.0" lengthAdjust="spacingAndGlyphs">MR Images</text>
<text x="577.1" y="130.9" font-size="10" fill="#333" textLength="47.1" lengthAdjust="spacingAndGlyphs">Quenching</text>
<text x="579.6" y="188.4" font-size="10" fill="#333" textLength="40.8" lengthAdjust="spacingAndGlyphs">Magnetic</text>
<text x="580.6" y="200.5" font-size="10" fill="#333" textLength="38.6" lengthAdjust="spacingAndGlyphs">Coupling</text>
<line x1="575.5" y1="152.5" x2="615" y2="152.5" stroke="#000" stroke-width="2"/>
<path d="M610.6,148.6 L617.6,152.5 L610.6,156.4" fill="none" stroke="#000" stroke-width="2"/>
<text x="518.3" y="234.7" font-size="19.5" font-weight="bold">F</text>
<rect x="557.2" y="231.5" width="122.1" height="88.7" fill="none" stroke="#a0a0a0" stroke-width="0.8"/>
<line x1="555.4000000000001" y1="316.1" x2="557.2" y2="316.1" stroke="#888" stroke-width="0.6"/>
<text x="554.6" y="318.7" font-size="7.3" text-anchor="end" fill="#333" textLength="13.8" lengthAdjust="spacingAndGlyphs">0.00</text>
<line x1="555.4000000000001" y1="304.0" x2="557.2" y2="304.0" stroke="#888" stroke-width="0.6"/>
<text x="554.6" y="306.6" font-size="7.3" text-anchor="end" fill="#333" textLength="13.8" lengthAdjust="spacingAndGlyphs">0.02</text>
<line x1="555.4000000000001" y1="291.9" x2="557.2" y2="291.9" stroke="#888" stroke-width="0.6"/>
<text x="554.6" y="294.6" font-size="7.3" text-anchor="end" fill="#333" textLength="13.8" lengthAdjust="spacingAndGlyphs">0.04</text>
<line x1="555.4000000000001" y1="279.9" x2="557.2" y2="279.9" stroke="#888" stroke-width="0.6"/>
<text x="554.6" y="282.5" font-size="7.3" text-anchor="end" fill="#333" textLength="13.8" lengthAdjust="spacingAndGlyphs">0.06</text>
<line x1="555.4000000000001" y1="267.9" x2="557.2" y2="267.9" stroke="#888" stroke-width="0.6"/>
<text x="554.6" y="270.5" font-size="7.3" text-anchor="end" fill="#333" textLength="13.8" lengthAdjust="spacingAndGlyphs">0.08</text>
<line x1="555.4000000000001" y1="255.8" x2="557.2" y2="255.8" stroke="#888" stroke-width="0.6"/>
<text x="554.6" y="258.4" font-size="7.3" text-anchor="end" fill="#333" textLength="13.8" lengthAdjust="spacingAndGlyphs">0.10</text>
<line x1="555.4000000000001" y1="243.8" x2="557.2" y2="243.8" stroke="#888" stroke-width="0.6"/>
<text x="554.6" y="246.3" font-size="7.3" text-anchor="end" fill="#333" textLength="13.8" lengthAdjust="spacingAndGlyphs">0.12</text>
<line x1="555.4000000000001" y1="231.7" x2="557.2" y2="231.7" stroke="#888" stroke-width="0.6"/>
<text x="554.6" y="234.3" font-size="7.3" text-anchor="end" fill="#333" textLength="13.8" lengthAdjust="spacingAndGlyphs">0.14</text>
<line x1="557.6" y1="320.2" x2="557.6" y2="322.0" stroke="#888" stroke-width="0.6"/>
<text x="557.6" y="331.6" font-size="8.8" text-anchor="middle" fill="#333">0</text>
<line x1="573.9" y1="320.2" x2="573.9" y2="322.0" stroke="#888" stroke-width="0.6"/>
<text x="573.9" y="331.6" font-size="8.8" text-anchor="middle" fill="#333">2</text>
<line x1="590.2" y1="320.2" x2="590.2" y2="322.0" stroke="#888" stroke-width="0.6"/>
<text x="590.2" y="331.6" font-size="8.8" text-anchor="middle" fill="#333">4</text>
<line x1="606.4" y1="320.2" x2="606.4" y2="322.0" stroke="#888" stroke-width="0.6"/>
<text x="606.4" y="331.6" font-size="8.8" text-anchor="middle" fill="#333">6</text>
<line x1="622.7" y1="320.2" x2="622.7" y2="322.0" stroke="#888" stroke-width="0.6"/>
<text x="622.7" y="331.6" font-size="8.8" text-anchor="middle" fill="#333">8</text>
<line x1="639.0" y1="320.2" x2="639.0" y2="322.0" stroke="#888" stroke-width="0.6"/>
<text x="639.0" y="331.6" font-size="8.8" text-anchor="middle" fill="#333">10</text>
<line x1="655.3" y1="320.2" x2="655.3" y2="322.0" stroke="#888" stroke-width="0.6"/>
<text x="655.3" y="331.6" font-size="8.8" text-anchor="middle" fill="#333">12</text>
<line x1="671.6" y1="320.2" x2="671.6" y2="322.0" stroke="#888" stroke-width="0.6"/>
<text x="671.6" y="331.6" font-size="8.8" text-anchor="middle" fill="#333">14</text>
<text transform="translate(534.4,273.9) rotate(-90)" text-anchor="middle" font-size="11.6" fill="#222" textLength="47" lengthAdjust="spacingAndGlyphs">1/T1 (S<tspan dy="-4" font-size="7">-1</tspan><tspan dy="4">)</tspan></text>
<text x="616.2" y="344.6" font-size="11.5" text-anchor="middle" fill="#222">[Fe], <tspan font-family="Liberation Serif">μ</tspan>M</text>
<line x1="562.5" y1="313.0" x2="674.0" y2="241.6" stroke="#333" stroke-width="0.8" stroke-dasharray="1,1"/>
<line x1="562.5" y1="308.3" x2="674.0" y2="297.7" stroke="#e8262b" stroke-width="1" stroke-dasharray="1,1"/>
<line x1="562.5" y1="310.1" x2="674.0" y2="305.3" stroke="#2f6fd0" stroke-width="1" stroke-dasharray="1,1"/>
<rect x="563.6" y="309.2" width="2.6" height="2.6" fill="#333"/>
<circle cx="564.9" cy="309.9" r="1.6" fill="#e8262b"/>
<path d="M564.9,308.9 L566.6,312.3 L563.2,312.3 Z" fill="#2a6ddc"/>
<rect x="571.0" y="303.6" width="2.6" height="2.6" fill="#333"/>
<circle cx="572.3" cy="307.0" r="1.6" fill="#e8262b"/>
<path d="M572.3,307.4 L574.0,310.8 L570.6,310.8 Z" fill="#2a6ddc"/>
<rect x="585.6" y="291.3" width="2.6" height="2.6" fill="#333"/>
<circle cx="586.9" cy="303.3" r="1.6" fill="#e8262b"/>
<path d="M586.9,306.2 L588.6,309.6 L585.2,309.6 Z" fill="#2a6ddc"/>
<rect x="614.1" y="273.3" width="2.6" height="2.6" fill="#333"/>
<circle cx="615.4" cy="301.1" r="1.6" fill="#e8262b"/>
<path d="M615.4,305.4 L617.1,308.8 L613.7,308.8 Z" fill="#2a6ddc"/>
<rect x="671.9" y="240.9" width="2.6" height="2.6" fill="#333"/>
<circle cx="673.2" cy="298.6" r="1.6" fill="#e8262b"/>
<path d="M673.2,303.5 L674.9,306.9 L671.5,306.9 Z" fill="#2a6ddc"/>
<rect x="561.6" y="235.8" width="2.6" height="2.6" fill="#333"/>
<circle cx="562.9" cy="247.7" r="1.6" fill="#e8262b"/>
<path d="M562.9,255.8 L564.6,259.2 L561.2,259.2 Z" fill="#2a6ddc"/>
<text x="573.5" y="240.5" font-size="9.3" fill="#222" textLength="18.6" lengthAdjust="spacingAndGlyphs"><tspan fill="#4a86c8">M</tspan>NP</text>
<text x="573.5" y="251.1" font-size="9.3" fill="#222" textLength="32.8" lengthAdjust="spacingAndGlyphs"><tspan fill="#f5a33a">FM</tspan> NPs</text>
<text x="573.5" y="261.2" font-size="9.3" fill="#222" textLength="39.7" lengthAdjust="spacingAndGlyphs"><tspan fill="#f5a33a">F</tspan><tspan fill="#4a86c8">M</tspan><tspan fill="#5fb85c">G</tspan> NPs</text>
<text transform="translate(607,276.3) rotate(-31)" font-size="10.5" fill="#222" textLength="70" lengthAdjust="spacingAndGlyphs">r1 = 8.41 mM<tspan dy="-3.5" font-size="6.5">-1</tspan><tspan dy="3.5">S</tspan><tspan dy="-3.5" font-size="6.5">-1</tspan></text>
<text transform="translate(603.8,299.8) rotate(-3.3)" font-size="10.5" fill="#e8262b" textLength="70" lengthAdjust="spacingAndGlyphs">r1 = 1.68 mM<tspan dy="-3.5" font-size="6.5">-1</tspan><tspan dy="3.5">S</tspan><tspan dy="-3.5" font-size="6.5">-1</tspan></text>
<text transform="translate(604.5,317.3) rotate(-1.4)" font-size="10.5" fill="#3d7fd0" textLength="70.5" lengthAdjust="spacingAndGlyphs">r1 = 0.83 mM<tspan dy="-3.5" font-size="6.5">-1</tspan><tspan dy="3.5">S</tspan><tspan dy="-3.5" font-size="6.5">-1</tspan></text>
<text x="515.6" y="357.4" font-size="24" font-weight="bold" textLength="20.2" lengthAdjust="spacingAndGlyphs">G</text>
<rect x="558.3" y="355.5" width="121.6" height="91.1" fill="none" stroke="#a0a0a0" stroke-width="0.8"/>
<line x1="556.5" y1="445.5" x2="558.3" y2="445.5" stroke="#888" stroke-width="0.6"/>
<text x="555.8" y="448.2" font-size="7.8" text-anchor="end" fill="#333">0.0</text>
<line x1="556.5" y1="432.6" x2="558.3" y2="432.6" stroke="#888" stroke-width="0.6"/>
<text x="555.8" y="435.3" font-size="7.8" text-anchor="end" fill="#333">0.2</text>
<line x1="556.5" y1="419.8" x2="558.3" y2="419.8" stroke="#888" stroke-width="0.6"/>
<text x="555.8" y="422.5" font-size="7.8" text-anchor="end" fill="#333">0.4</text>
<line x1="556.5" y1="406.9" x2="558.3" y2="406.9" stroke="#888" stroke-width="0.6"/>
<text x="555.8" y="409.6" font-size="7.8" text-anchor="end" fill="#333">0.6</text>
<line x1="556.5" y1="394.1" x2="558.3" y2="394.1" stroke="#888" stroke-width="0.6"/>
<text x="555.8" y="396.8" font-size="7.8" text-anchor="end" fill="#333">0.8</text>
<line x1="556.5" y1="381.2" x2="558.3" y2="381.2" stroke="#888" stroke-width="0.6"/>
<text x="555.8" y="383.9" font-size="7.8" text-anchor="end" fill="#333">1.0</text>
<line x1="556.5" y1="368.3" x2="558.3" y2="368.3" stroke="#888" stroke-width="0.6"/>
<text x="555.8" y="371.0" font-size="7.8" text-anchor="end" fill="#333">1.2</text>
<line x1="556.5" y1="355.5" x2="558.3" y2="355.5" stroke="#888" stroke-width="0.6"/>
<text x="555.8" y="358.2" font-size="7.8" text-anchor="end" fill="#333">1.4</text>
<line x1="561.6" y1="446.6" x2="561.6" y2="448.40000000000003" stroke="#888" stroke-width="0.6"/>
<text x="561.6" y="456.4" font-size="8.8" text-anchor="middle" fill="#333">0</text>
<line x1="577.2" y1="446.6" x2="577.2" y2="448.40000000000003" stroke="#888" stroke-width="0.6"/>
<text x="577.2" y="456.4" font-size="8.8" text-anchor="middle" fill="#333">2</text>
<line x1="592.8" y1="446.6" x2="592.8" y2="448.40000000000003" stroke="#888" stroke-width="0.6"/>
<text x="592.8" y="456.4" font-size="8.8" text-anchor="middle" fill="#333">4</text>
<line x1="608.4" y1="446.6" x2="608.4" y2="448.40000000000003" stroke="#888" stroke-width="0.6"/>
<text x="608.4" y="456.4" font-size="8.8" text-anchor="middle" fill="#333">6</text>
<line x1="624.0" y1="446.6" x2="624.0" y2="448.40000000000003" stroke="#888" stroke-width="0.6"/>
<text x="624.0" y="456.4" font-size="8.8" text-anchor="middle" fill="#333">8</text>
<line x1="639.6" y1="446.6" x2="639.6" y2="448.40000000000003" stroke="#888" stroke-width="0.6"/>
<text x="639.6" y="456.4" font-size="8.8" text-anchor="middle" fill="#333">10</text>
<line x1="655.2" y1="446.6" x2="655.2" y2="448.40000000000003" stroke="#888" stroke-width="0.6"/>
<text x="655.2" y="456.4" font-size="8.8" text-anchor="middle" fill="#333">12</text>
<line x1="670.8" y1="446.6" x2="670.8" y2="448.40000000000003" stroke="#888" stroke-width="0.6"/>
<text x="670.8" y="456.4" font-size="8.8" text-anchor="middle" fill="#333">14</text>
<text transform="translate(538.2,395.6) rotate(-90)" text-anchor="middle" font-size="11.6" fill="#222" textLength="47.5" lengthAdjust="spacingAndGlyphs">1/T2 (S<tspan dy="-4" font-size="7">-1</tspan><tspan dy="4">)</tspan></text>
<text x="618.2" y="467.6" font-size="11.5" text-anchor="middle" fill="#222">[Fe], <tspan font-family="Liberation Serif">μ</tspan>M</text>
<line x1="561.6" y1="442.3" x2="673.1" y2="421.1" stroke="#333" stroke-width="0.8" stroke-dasharray="1,1"/>
<line x1="561.6" y1="446.7" x2="618.5" y2="385.7" stroke="#e8262b" stroke-width="1" stroke-dasharray="1.2,0.8"/>
<line x1="561.2" y1="444.2" x2="590.5" y2="377.3" stroke="#2f6fd0" stroke-width="1" stroke-dasharray="1,1"/>
<rect x="567.3" y="439.4" width="2.6" height="2.6" fill="#333"/>
<rect x="574.3" y="438.3" width="2.6" height="2.6" fill="#333"/>
<rect x="588.4" y="438.5" width="2.6" height="2.6" fill="#333"/>
<rect x="615.7" y="431.7" width="2.6" height="2.6" fill="#333"/>
<rect x="671.1" y="420.8" width="2.6" height="2.6" fill="#333"/>
<circle cx="568.6" cy="440.4" r="1.6" fill="#e8262b"/>
<circle cx="575.6" cy="434.6" r="1.6" fill="#e8262b"/>
<circle cx="589.7" cy="416.1" r="1.6" fill="#e8262b"/>
<circle cx="617.0" cy="387.3" r="1.6" fill="#e8262b"/>
<path d="M561.8,438.0 L563.5,441.4 L560.1,441.4 Z" fill="#2a6ddc"/>
<path d="M568.6,421.0 L570.3,424.4 L566.9,424.4 Z" fill="#2a6ddc"/>
<path d="M575.6,401.3 L577.3,404.7 L573.9,404.7 Z" fill="#2a6ddc"/>
<path d="M589.7,375.9 L591.4,379.3 L588.0,379.3 Z" fill="#2a6ddc"/>
<circle cx="568.6" cy="440.4" r="1.6" fill="#e8262b"/>
<rect x="627.4" y="379.4" width="2.6" height="2.6" fill="#333"/>
<circle cx="628.7" cy="391.2" r="1.6" fill="#e8262b"/>
<path d="M628.7,399.9 L630.4,403.3 L627.0,403.3 Z" fill="#2a6ddc"/>
<text x="638.5" y="384.3" font-size="10" fill="#222" textLength="20.0" lengthAdjust="spacingAndGlyphs"><tspan fill="#4a86c8">M</tspan>NP</text>
<text x="638.5" y="394.8" font-size="10" fill="#222" textLength="32.1" lengthAdjust="spacingAndGlyphs"><tspan fill="#f5a33a">FM</tspan> NPs</text>
<text x="638.5" y="405.5" font-size="10" fill="#222" textLength="38.9" lengthAdjust="spacingAndGlyphs"><tspan fill="#f5a33a">F</tspan><tspan fill="#4a86c8">M</tspan><tspan fill="#5fb85c">G</tspan> NPs</text>
<text transform="translate(606.8,430.4) rotate(-9.5)" font-size="10.3" fill="#222" textLength="68.5" lengthAdjust="spacingAndGlyphs">r2 = 26.2 mM<tspan dy="-3.5" font-size="6.5">-1</tspan><tspan dy="3.5">S</tspan><tspan dy="-3.5" font-size="6.5">-1</tspan></text>
<text transform="translate(578.7,424.3) rotate(-48)" font-size="10.3" fill="#e8262b" textLength="75" lengthAdjust="spacingAndGlyphs">r2 = 134.3 mM<tspan dy="-3.5" font-size="6.5">-1</tspan><tspan dy="3.5">S</tspan><tspan dy="-3.5" font-size="6.5">-1</tspan></text>
<text transform="translate(564.2,423.2) rotate(-70)" font-size="10.3" fill="#3d7fd0" textLength="75" lengthAdjust="spacingAndGlyphs">r2 = 270.3 mM<tspan dy="-3.5" font-size="6.5">-1</tspan><tspan dy="3.5">S</tspan><tspan dy="-3.5" font-size="6.5">-1</tspan></text>
</svg>
</body></html>
